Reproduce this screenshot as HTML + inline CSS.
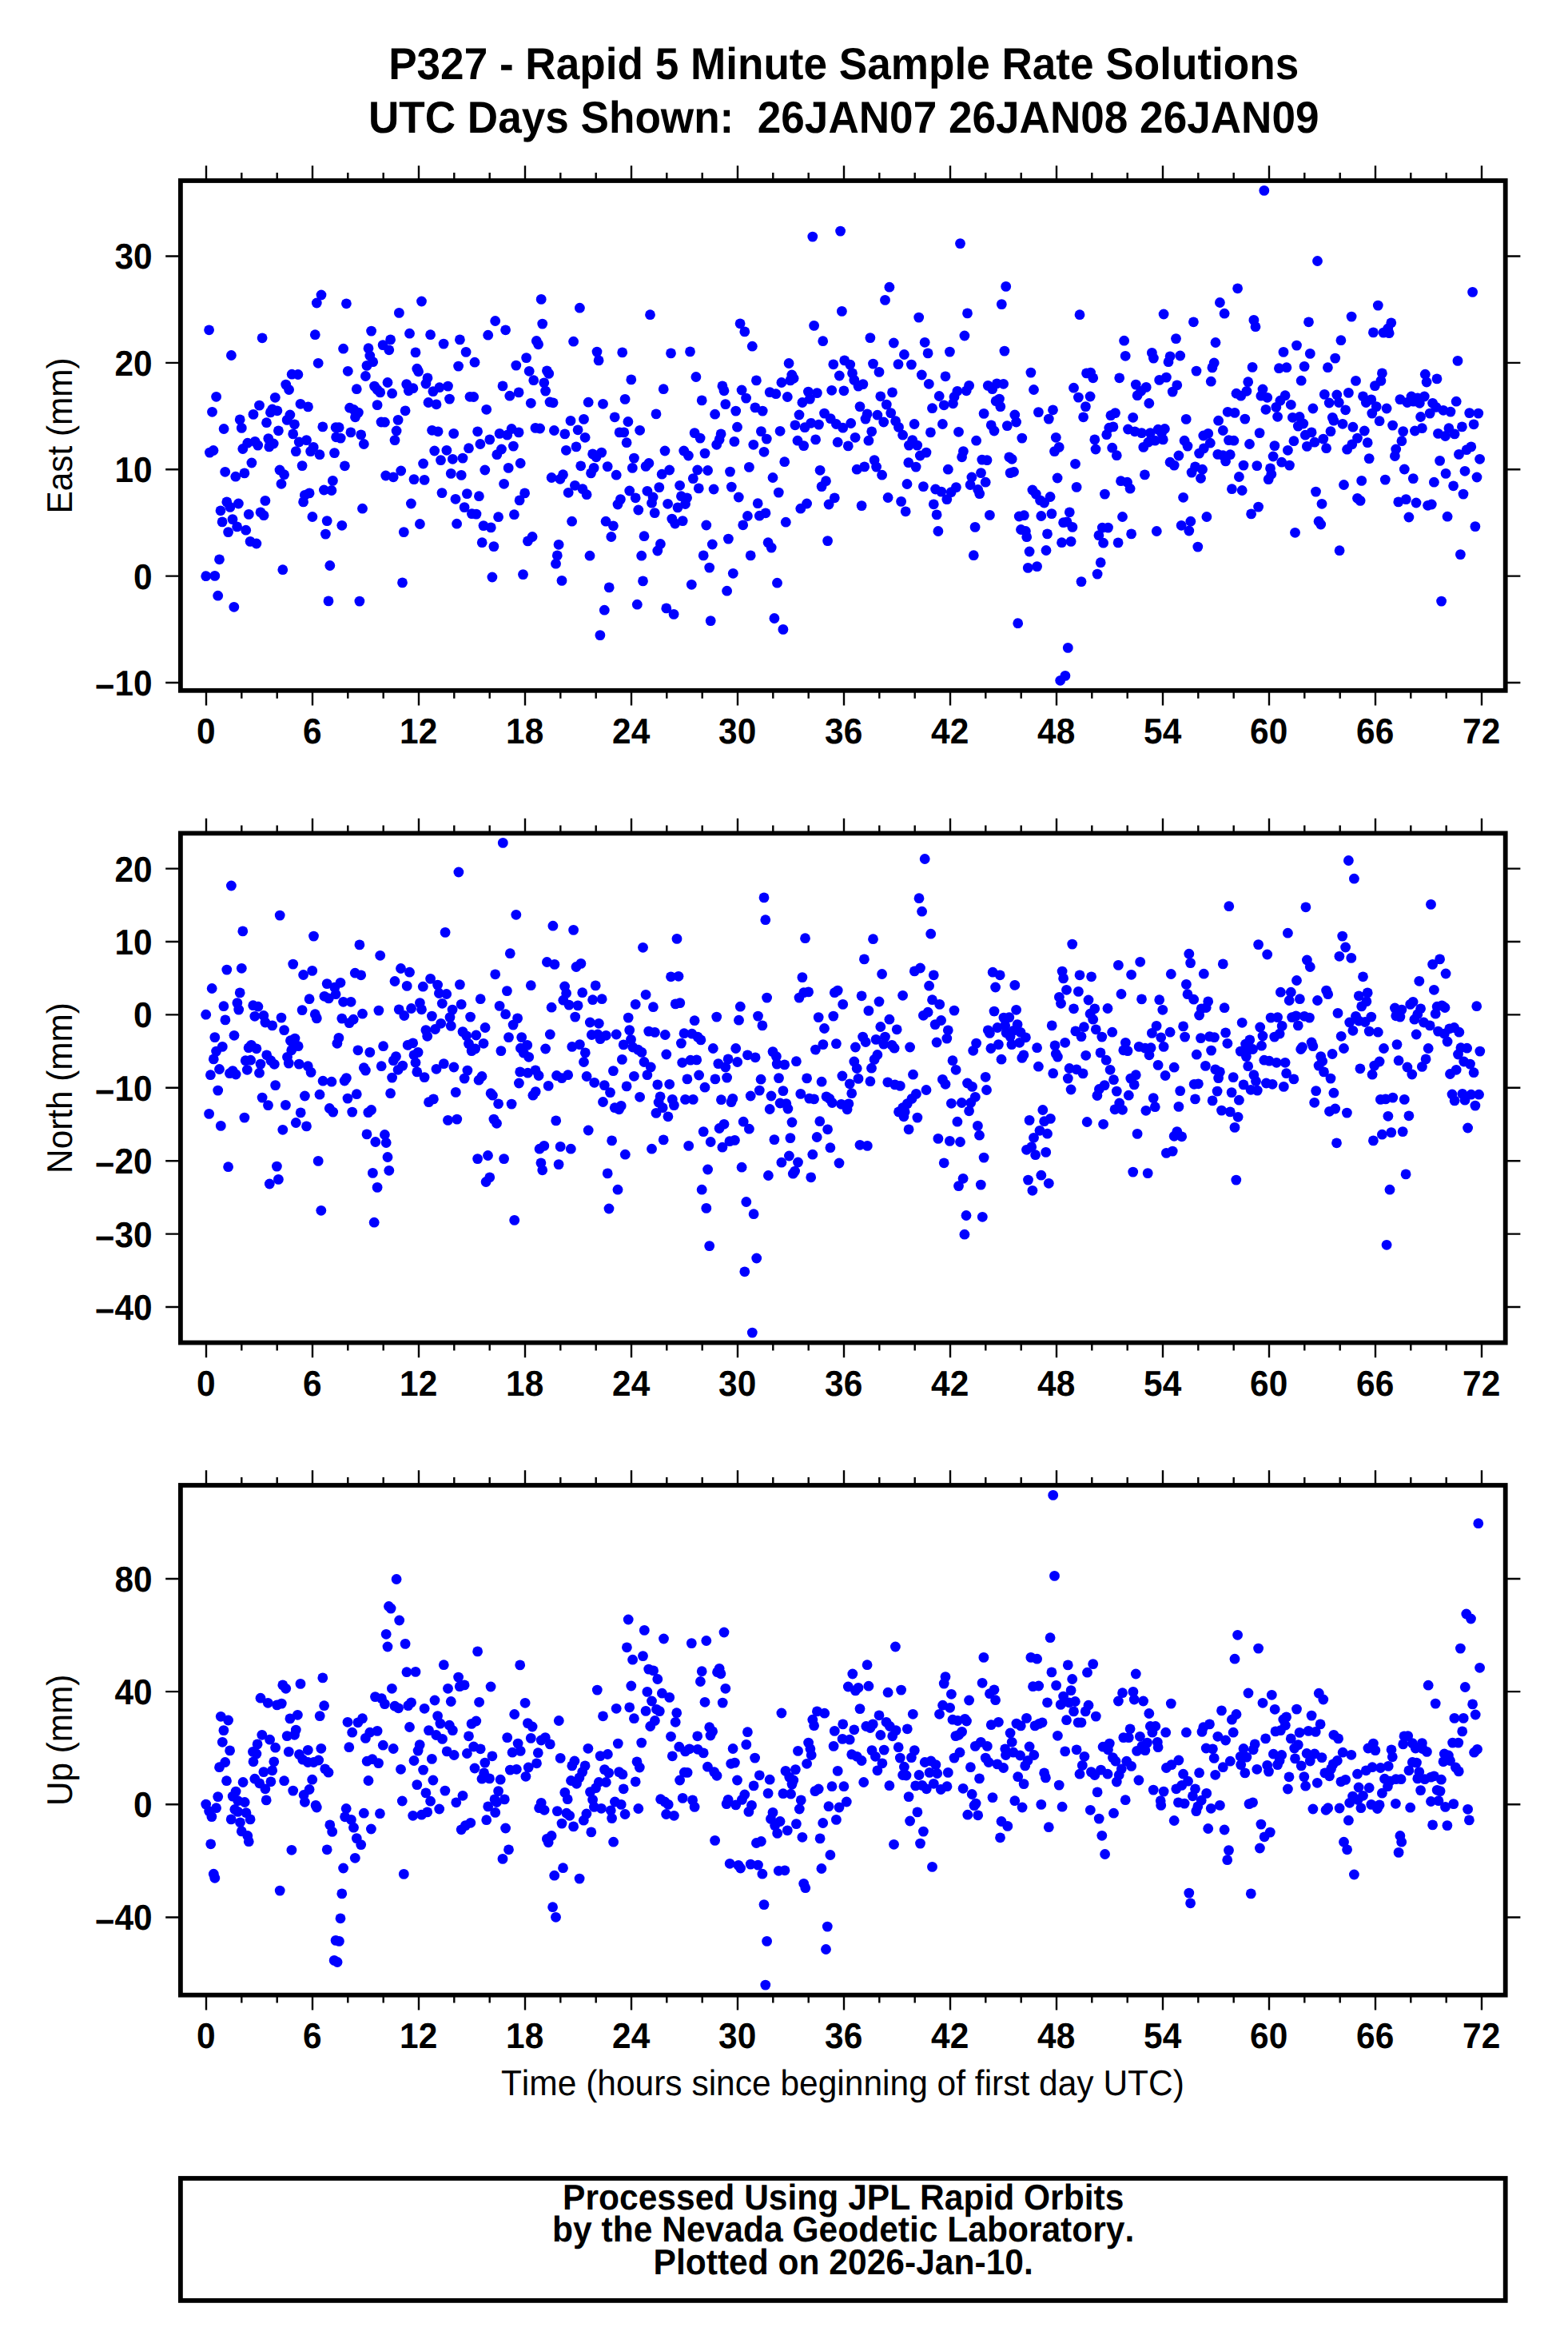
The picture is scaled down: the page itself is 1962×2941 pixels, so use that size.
<!DOCTYPE html>
<html><head><meta charset="utf-8"><title>P327</title>
<style>html,body{margin:0;padding:0;background:#fff}svg{display:block}text{font-family:"Liberation Sans",sans-serif;fill:#000;font-kerning:none;font-variant-ligatures:none;text-rendering:geometricPrecision}.b{font-weight:bold}</style></head><body>
<svg width="1962" height="2941" viewBox="0 0 1962 2941">
<rect width="1962" height="2941" fill="#fff"/>
<text class="b" font-size="53.12" text-anchor="middle" transform="translate(1055.7 98.9) scale(1 1.055)">P327 - Rapid 5 Minute Sample Rate Solutions</text>
<text class="b" font-size="53.12" text-anchor="middle" transform="translate(1055.7 165.9) scale(1 1.055)" xml:space="preserve">UTC Days Shown:  26JAN07 26JAN08 26JAN09</text>
<g fill="#0000ff"><circle cx="402.0" cy="369.0" r="6.4"/><circle cx="396.3" cy="379.0" r="6.4"/><circle cx="433.4" cy="379.8" r="6.4"/><circle cx="527.5" cy="377.0" r="6.4"/><circle cx="499.4" cy="391.4" r="6.4"/><circle cx="619.7" cy="401.5" r="6.4"/><circle cx="261.6" cy="412.8" r="6.4"/><circle cx="632.6" cy="412.8" r="6.4"/><circle cx="464.6" cy="414.1" r="6.4"/><circle cx="512.5" cy="417.2" r="6.4"/><circle cx="538.6" cy="418.7" r="6.4"/><circle cx="394.3" cy="418.7" r="6.4"/><circle cx="610.7" cy="419.2" r="6.4"/><circle cx="328.1" cy="422.8" r="6.4"/><circle cx="575.4" cy="424.9" r="6.4"/><circle cx="488.6" cy="424.9" r="6.4"/><circle cx="555.1" cy="430.1" r="6.4"/><circle cx="479.1" cy="431.6" r="6.4"/><circle cx="461.0" cy="435.7" r="6.4"/><circle cx="429.6" cy="436.2" r="6.4"/><circle cx="486.8" cy="437.8" r="6.4"/><circle cx="583.1" cy="440.4" r="6.4"/><circle cx="520.0" cy="440.9" r="6.4"/><circle cx="289.4" cy="444.5" r="6.4"/><circle cx="462.8" cy="445.0" r="6.4"/><circle cx="466.7" cy="452.7" r="6.4"/><circle cx="594.0" cy="453.2" r="6.4"/><circle cx="398.2" cy="454.3" r="6.4"/><circle cx="459.0" cy="457.4" r="6.4"/><circle cx="573.6" cy="458.1" r="6.4"/><circle cx="645.8" cy="457.1" r="6.4"/><circle cx="521.8" cy="461.2" r="6.4"/><circle cx="523.6" cy="464.8" r="6.4"/><circle cx="435.3" cy="464.3" r="6.4"/><circle cx="365.2" cy="468.2" r="6.4"/><circle cx="372.9" cy="468.5" r="6.4"/><circle cx="457.4" cy="470.5" r="6.4"/><circle cx="535.0" cy="472.8" r="6.4"/><circle cx="485.0" cy="478.5" r="6.4"/><circle cx="532.9" cy="480.0" r="6.4"/><circle cx="357.7" cy="481.1" r="6.4"/><circle cx="508.7" cy="480.6" r="6.4"/><circle cx="468.5" cy="483.1" r="6.4"/><circle cx="560.5" cy="483.1" r="6.4"/><circle cx="549.9" cy="484.7" r="6.4"/><circle cx="629.0" cy="482.9" r="6.4"/><circle cx="516.9" cy="485.7" r="6.4"/><circle cx="446.3" cy="486.7" r="6.4"/><circle cx="361.6" cy="487.5" r="6.4"/><circle cx="472.1" cy="487.5" r="6.4"/><circle cx="511.3" cy="488.8" r="6.4"/><circle cx="541.9" cy="489.6" r="6.4"/><circle cx="475.7" cy="490.9" r="6.4"/><circle cx="649.1" cy="490.9" r="6.4"/><circle cx="490.6" cy="492.2" r="6.4"/><circle cx="637.8" cy="495.2" r="6.4"/><circle cx="270.6" cy="496.3" r="6.4"/><circle cx="588.0" cy="496.3" r="6.4"/><circle cx="592.7" cy="496.5" r="6.4"/><circle cx="344.3" cy="497.3" r="6.4"/><circle cx="562.5" cy="499.1" r="6.4"/><circle cx="536.0" cy="503.5" r="6.4"/><circle cx="376.0" cy="505.3" r="6.4"/><circle cx="546.0" cy="505.8" r="6.4"/><circle cx="472.1" cy="506.6" r="6.4"/><circle cx="324.5" cy="507.1" r="6.4"/><circle cx="385.5" cy="508.9" r="6.4"/><circle cx="437.6" cy="510.2" r="6.4"/><circle cx="608.7" cy="512.3" r="6.4"/><circle cx="340.7" cy="512.0" r="6.4"/><circle cx="346.9" cy="513.8" r="6.4"/><circle cx="507.1" cy="513.8" r="6.4"/><circle cx="265.5" cy="515.3" r="6.4"/><circle cx="448.4" cy="516.1" r="6.4"/><circle cx="338.4" cy="515.9" r="6.4"/><circle cx="442.7" cy="512.5" r="6.4"/><circle cx="317.0" cy="518.4" r="6.4"/><circle cx="362.9" cy="519.0" r="6.4"/><circle cx="444.5" cy="521.8" r="6.4"/><circle cx="300.2" cy="524.9" r="6.4"/><circle cx="359.2" cy="525.4" r="6.4"/><circle cx="498.1" cy="525.4" r="6.4"/><circle cx="333.5" cy="528.7" r="6.4"/><circle cx="477.0" cy="528.0" r="6.4"/><circle cx="481.4" cy="528.2" r="6.4"/><circle cx="368.5" cy="530.8" r="6.4"/><circle cx="403.8" cy="533.9" r="6.4"/><circle cx="420.1" cy="534.7" r="6.4"/><circle cx="424.2" cy="534.7" r="6.4"/><circle cx="302.3" cy="535.4" r="6.4"/><circle cx="280.1" cy="536.5" r="6.4"/><circle cx="640.1" cy="536.5" r="6.4"/><circle cx="540.6" cy="538.3" r="6.4"/><circle cx="348.4" cy="538.8" r="6.4"/><circle cx="496.1" cy="539.0" r="6.4"/><circle cx="548.1" cy="539.8" r="6.4"/><circle cx="597.6" cy="539.8" r="6.4"/><circle cx="438.9" cy="540.9" r="6.4"/><circle cx="567.7" cy="542.4" r="6.4"/><circle cx="366.7" cy="542.9" r="6.4"/><circle cx="451.7" cy="543.9" r="6.4"/><circle cx="625.1" cy="542.4" r="6.4"/><circle cx="649.1" cy="540.9" r="6.4"/><circle cx="634.7" cy="544.2" r="6.4"/><circle cx="1051.6" cy="289.1" r="6.4"/><circle cx="1016.8" cy="296.1" r="6.4"/><circle cx="677.2" cy="374.4" r="6.4"/><circle cx="725.4" cy="385.2" r="6.4"/><circle cx="813.5" cy="393.7" r="6.4"/><circle cx="1053.4" cy="389.4" r="6.4"/><circle cx="678.7" cy="405.1" r="6.4"/><circle cx="926.1" cy="404.8" r="6.4"/><circle cx="931.8" cy="414.9" r="6.4"/><circle cx="1018.6" cy="407.4" r="6.4"/><circle cx="671.3" cy="426.5" r="6.4"/><circle cx="673.6" cy="430.8" r="6.4"/><circle cx="717.6" cy="427.2" r="6.4"/><circle cx="1029.7" cy="426.7" r="6.4"/><circle cx="941.3" cy="433.2" r="6.4"/><circle cx="747.0" cy="440.1" r="6.4"/><circle cx="749.1" cy="450.9" r="6.4"/><circle cx="778.7" cy="440.9" r="6.4"/><circle cx="839.5" cy="441.9" r="6.4"/><circle cx="863.5" cy="439.9" r="6.4"/><circle cx="658.6" cy="447.6" r="6.4"/><circle cx="987.1" cy="454.5" r="6.4"/><circle cx="1042.8" cy="455.8" r="6.4"/><circle cx="1056.7" cy="450.9" r="6.4"/><circle cx="662.2" cy="464.3" r="6.4"/><circle cx="684.4" cy="463.8" r="6.4"/><circle cx="686.7" cy="467.4" r="6.4"/><circle cx="667.7" cy="475.7" r="6.4"/><circle cx="680.8" cy="478.8" r="6.4"/><circle cx="682.6" cy="489.1" r="6.4"/><circle cx="789.8" cy="474.9" r="6.4"/><circle cx="870.9" cy="471.5" r="6.4"/><circle cx="946.4" cy="475.9" r="6.4"/><circle cx="990.8" cy="469.0" r="6.4"/><circle cx="993.1" cy="473.3" r="6.4"/><circle cx="988.9" cy="475.9" r="6.4"/><circle cx="977.9" cy="478.5" r="6.4"/><circle cx="1050.3" cy="470.0" r="6.4"/><circle cx="830.2" cy="486.7" r="6.4"/><circle cx="903.9" cy="482.9" r="6.4"/><circle cx="906.0" cy="488.8" r="6.4"/><circle cx="928.1" cy="488.0" r="6.4"/><circle cx="933.6" cy="498.1" r="6.4"/><circle cx="963.2" cy="490.6" r="6.4"/><circle cx="970.9" cy="492.7" r="6.4"/><circle cx="985.3" cy="496.5" r="6.4"/><circle cx="1011.4" cy="490.1" r="6.4"/><circle cx="1022.4" cy="491.6" r="6.4"/><circle cx="1013.4" cy="499.1" r="6.4"/><circle cx="1003.9" cy="503.5" r="6.4"/><circle cx="1040.7" cy="488.3" r="6.4"/><circle cx="1055.9" cy="488.8" r="6.4"/><circle cx="664.3" cy="504.3" r="6.4"/><circle cx="688.0" cy="503.0" r="6.4"/><circle cx="692.1" cy="503.8" r="6.4"/><circle cx="736.2" cy="503.2" r="6.4"/><circle cx="754.5" cy="505.3" r="6.4"/><circle cx="782.1" cy="499.4" r="6.4"/><circle cx="878.2" cy="500.9" r="6.4"/><circle cx="907.8" cy="505.6" r="6.4"/><circle cx="920.7" cy="514.1" r="6.4"/><circle cx="944.9" cy="509.9" r="6.4"/><circle cx="954.2" cy="514.1" r="6.4"/><circle cx="894.6" cy="518.2" r="6.4"/><circle cx="821.0" cy="517.9" r="6.4"/><circle cx="769.2" cy="521.8" r="6.4"/><circle cx="730.5" cy="524.4" r="6.4"/><circle cx="714.0" cy="526.4" r="6.4"/><circle cx="785.9" cy="527.5" r="6.4"/><circle cx="1000.0" cy="519.0" r="6.4"/><circle cx="1031.5" cy="517.1" r="6.4"/><circle cx="1039.2" cy="523.6" r="6.4"/><circle cx="1046.4" cy="530.5" r="6.4"/><circle cx="1054.7" cy="535.2" r="6.4"/><circle cx="1014.7" cy="529.3" r="6.4"/><circle cx="1024.5" cy="531.1" r="6.4"/><circle cx="994.9" cy="531.8" r="6.4"/><circle cx="1007.0" cy="534.7" r="6.4"/><circle cx="922.5" cy="534.2" r="6.4"/><circle cx="952.4" cy="539.6" r="6.4"/><circle cx="976.1" cy="539.3" r="6.4"/><circle cx="670.0" cy="535.4" r="6.4"/><circle cx="675.6" cy="536.0" r="6.4"/><circle cx="693.4" cy="538.5" r="6.4"/><circle cx="706.8" cy="542.9" r="6.4"/><circle cx="723.1" cy="537.8" r="6.4"/><circle cx="775.1" cy="540.9" r="6.4"/><circle cx="780.8" cy="540.9" r="6.4"/><circle cx="800.6" cy="538.3" r="6.4"/><circle cx="869.1" cy="541.6" r="6.4"/><circle cx="902.1" cy="542.9" r="6.4"/><circle cx="1201.5" cy="304.6" r="6.4"/><circle cx="1112.9" cy="359.2" r="6.4"/><circle cx="1107.5" cy="375.4" r="6.4"/><circle cx="1258.7" cy="358.4" r="6.4"/><circle cx="1253.3" cy="380.6" r="6.4"/><circle cx="1210.5" cy="391.9" r="6.4"/><circle cx="1149.7" cy="397.1" r="6.4"/><circle cx="1351.0" cy="393.7" r="6.4"/><circle cx="1456.1" cy="393.0" r="6.4"/><circle cx="1088.9" cy="422.6" r="6.4"/><circle cx="1118.3" cy="429.0" r="6.4"/><circle cx="1157.2" cy="428.3" r="6.4"/><circle cx="1206.9" cy="420.0" r="6.4"/><circle cx="1406.6" cy="426.2" r="6.4"/><circle cx="1131.4" cy="443.5" r="6.4"/><circle cx="1161.1" cy="441.9" r="6.4"/><circle cx="1188.4" cy="440.1" r="6.4"/><circle cx="1256.9" cy="439.1" r="6.4"/><circle cx="1408.2" cy="445.3" r="6.4"/><circle cx="1441.4" cy="441.4" r="6.4"/><circle cx="1443.4" cy="448.1" r="6.4"/><circle cx="1063.7" cy="456.1" r="6.4"/><circle cx="1092.5" cy="455.1" r="6.4"/><circle cx="1124.0" cy="455.6" r="6.4"/><circle cx="1140.4" cy="456.1" r="6.4"/><circle cx="1100.0" cy="465.4" r="6.4"/><circle cx="1066.5" cy="466.9" r="6.4"/><circle cx="1068.8" cy="475.4" r="6.4"/><circle cx="1153.3" cy="469.0" r="6.4"/><circle cx="1183.0" cy="470.8" r="6.4"/><circle cx="1289.9" cy="466.1" r="6.4"/><circle cx="1359.5" cy="466.9" r="6.4"/><circle cx="1364.6" cy="466.1" r="6.4"/><circle cx="1367.7" cy="472.8" r="6.4"/><circle cx="1400.7" cy="472.8" r="6.4"/><circle cx="1450.7" cy="475.4" r="6.4"/><circle cx="1459.4" cy="472.1" r="6.4"/><circle cx="1074.0" cy="483.1" r="6.4"/><circle cx="1079.9" cy="480.6" r="6.4"/><circle cx="1162.3" cy="480.3" r="6.4"/><circle cx="1212.6" cy="482.4" r="6.4"/><circle cx="1209.2" cy="488.8" r="6.4"/><circle cx="1197.9" cy="489.3" r="6.4"/><circle cx="1194.0" cy="496.5" r="6.4"/><circle cx="1192.5" cy="504.8" r="6.4"/><circle cx="1236.3" cy="482.4" r="6.4"/><circle cx="1247.4" cy="479.8" r="6.4"/><circle cx="1255.6" cy="480.3" r="6.4"/><circle cx="1241.7" cy="486.7" r="6.4"/><circle cx="1293.5" cy="487.5" r="6.4"/><circle cx="1343.5" cy="485.2" r="6.4"/><circle cx="1421.3" cy="481.1" r="6.4"/><circle cx="1434.2" cy="484.4" r="6.4"/><circle cx="1427.7" cy="489.3" r="6.4"/><circle cx="1423.1" cy="494.7" r="6.4"/><circle cx="1116.5" cy="490.9" r="6.4"/><circle cx="1101.8" cy="495.8" r="6.4"/><circle cx="1175.2" cy="495.5" r="6.4"/><circle cx="1181.2" cy="506.8" r="6.4"/><circle cx="1166.5" cy="510.7" r="6.4"/><circle cx="1109.3" cy="506.1" r="6.4"/><circle cx="1076.0" cy="508.6" r="6.4"/><circle cx="1246.1" cy="501.7" r="6.4"/><circle cx="1251.8" cy="508.6" r="6.4"/><circle cx="1250.5" cy="499.1" r="6.4"/><circle cx="1349.4" cy="497.1" r="6.4"/><circle cx="1364.1" cy="496.0" r="6.4"/><circle cx="1358.4" cy="508.6" r="6.4"/><circle cx="1437.8" cy="504.5" r="6.4"/><circle cx="1317.5" cy="512.8" r="6.4"/><circle cx="1299.4" cy="515.6" r="6.4"/><circle cx="1312.3" cy="524.1" r="6.4"/><circle cx="1269.8" cy="519.0" r="6.4"/><circle cx="1271.6" cy="528.0" r="6.4"/><circle cx="1231.1" cy="517.4" r="6.4"/><circle cx="1355.6" cy="521.8" r="6.4"/><circle cx="1395.5" cy="516.6" r="6.4"/><circle cx="1389.9" cy="519.7" r="6.4"/><circle cx="1417.7" cy="522.3" r="6.4"/><circle cx="1085.1" cy="517.9" r="6.4"/><circle cx="1083.0" cy="524.1" r="6.4"/><circle cx="1097.9" cy="519.2" r="6.4"/><circle cx="1114.7" cy="516.6" r="6.4"/><circle cx="1120.6" cy="526.7" r="6.4"/><circle cx="1105.7" cy="528.0" r="6.4"/><circle cx="1064.7" cy="529.5" r="6.4"/><circle cx="1144.1" cy="530.5" r="6.4"/><circle cx="1179.4" cy="530.5" r="6.4"/><circle cx="1240.2" cy="531.8" r="6.4"/><circle cx="1244.0" cy="539.0" r="6.4"/><circle cx="1260.3" cy="532.6" r="6.4"/><circle cx="1124.5" cy="534.4" r="6.4"/><circle cx="1090.7" cy="539.8" r="6.4"/><circle cx="1164.4" cy="540.9" r="6.4"/><circle cx="1199.5" cy="540.3" r="6.4"/><circle cx="1392.9" cy="533.9" r="6.4"/><circle cx="1387.8" cy="535.2" r="6.4"/><circle cx="1411.5" cy="537.0" r="6.4"/><circle cx="1420.0" cy="539.8" r="6.4"/><circle cx="1428.5" cy="541.6" r="6.4"/><circle cx="1439.3" cy="541.6" r="6.4"/><circle cx="1449.1" cy="537.2" r="6.4"/><circle cx="1457.4" cy="536.5" r="6.4"/><circle cx="1453.5" cy="541.6" r="6.4"/><circle cx="1129.6" cy="544.2" r="6.4"/><circle cx="1384.7" cy="543.7" r="6.4"/><circle cx="1464.1" cy="445.8" r="6.4"/><circle cx="1462.0" cy="452.7" r="6.4"/><circle cx="1467.2" cy="490.1" r="6.4"/><circle cx="1472.8" cy="481.8" r="6.4"/><circle cx="1581.8" cy="238.4" r="6.4"/><circle cx="1648.5" cy="326.5" r="6.4"/><circle cx="1548.6" cy="360.8" r="6.4"/><circle cx="1842.6" cy="365.4" r="6.4"/><circle cx="1526.4" cy="378.5" r="6.4"/><circle cx="1532.1" cy="392.2" r="6.4"/><circle cx="1724.3" cy="382.1" r="6.4"/><circle cx="1691.1" cy="396.1" r="6.4"/><circle cx="1493.4" cy="402.8" r="6.4"/><circle cx="1568.9" cy="400.4" r="6.4"/><circle cx="1571.0" cy="408.7" r="6.4"/><circle cx="1637.5" cy="402.8" r="6.4"/><circle cx="1740.8" cy="403.8" r="6.4"/><circle cx="1736.7" cy="411.0" r="6.4"/><circle cx="1731.0" cy="416.1" r="6.4"/><circle cx="1738.2" cy="416.7" r="6.4"/><circle cx="1718.4" cy="415.9" r="6.4"/><circle cx="1471.5" cy="423.6" r="6.4"/><circle cx="1521.0" cy="428.5" r="6.4"/><circle cx="1677.9" cy="425.7" r="6.4"/><circle cx="1622.5" cy="432.1" r="6.4"/><circle cx="1606.0" cy="440.4" r="6.4"/><circle cx="1639.3" cy="442.4" r="6.4"/><circle cx="1670.7" cy="448.1" r="6.4"/><circle cx="1476.7" cy="445.0" r="6.4"/><circle cx="1824.0" cy="451.4" r="6.4"/><circle cx="1519.2" cy="454.0" r="6.4"/><circle cx="1516.9" cy="459.9" r="6.4"/><circle cx="1567.1" cy="459.4" r="6.4"/><circle cx="1600.4" cy="460.7" r="6.4"/><circle cx="1609.9" cy="459.7" r="6.4"/><circle cx="1632.1" cy="458.4" r="6.4"/><circle cx="1661.4" cy="459.7" r="6.4"/><circle cx="1497.0" cy="464.1" r="6.4"/><circle cx="1515.3" cy="477.2" r="6.4"/><circle cx="1561.7" cy="477.7" r="6.4"/><circle cx="1628.2" cy="476.2" r="6.4"/><circle cx="1696.5" cy="476.4" r="6.4"/><circle cx="1729.4" cy="466.9" r="6.4"/><circle cx="1727.9" cy="476.4" r="6.4"/><circle cx="1720.4" cy="482.6" r="6.4"/><circle cx="1783.3" cy="468.2" r="6.4"/><circle cx="1785.1" cy="478.0" r="6.4"/><circle cx="1798.0" cy="473.9" r="6.4"/><circle cx="1547.0" cy="492.2" r="6.4"/><circle cx="1552.7" cy="495.2" r="6.4"/><circle cx="1559.9" cy="489.3" r="6.4"/><circle cx="1580.0" cy="487.0" r="6.4"/><circle cx="1577.9" cy="495.2" r="6.4"/><circle cx="1585.7" cy="497.3" r="6.4"/><circle cx="1608.1" cy="494.7" r="6.4"/><circle cx="1601.9" cy="501.2" r="6.4"/><circle cx="1596.8" cy="509.4" r="6.4"/><circle cx="1615.3" cy="506.3" r="6.4"/><circle cx="1583.9" cy="512.3" r="6.4"/><circle cx="1657.3" cy="493.4" r="6.4"/><circle cx="1672.8" cy="494.0" r="6.4"/><circle cx="1675.3" cy="503.5" r="6.4"/><circle cx="1663.2" cy="504.0" r="6.4"/><circle cx="1687.4" cy="491.4" r="6.4"/><circle cx="1705.5" cy="495.8" r="6.4"/><circle cx="1709.3" cy="503.5" r="6.4"/><circle cx="1715.8" cy="499.9" r="6.4"/><circle cx="1722.2" cy="508.6" r="6.4"/><circle cx="1716.8" cy="517.1" r="6.4"/><circle cx="1735.1" cy="511.0" r="6.4"/><circle cx="1683.6" cy="512.8" r="6.4"/><circle cx="1642.9" cy="511.0" r="6.4"/><circle cx="1751.9" cy="499.6" r="6.4"/><circle cx="1766.0" cy="496.0" r="6.4"/><circle cx="1760.9" cy="503.5" r="6.4"/><circle cx="1773.8" cy="497.8" r="6.4"/><circle cx="1782.3" cy="496.0" r="6.4"/><circle cx="1776.3" cy="504.3" r="6.4"/><circle cx="1768.6" cy="502.2" r="6.4"/><circle cx="1792.6" cy="504.3" r="6.4"/><circle cx="1796.9" cy="509.4" r="6.4"/><circle cx="1806.0" cy="513.3" r="6.4"/><circle cx="1815.0" cy="515.1" r="6.4"/><circle cx="1822.2" cy="502.2" r="6.4"/><circle cx="1789.2" cy="517.1" r="6.4"/><circle cx="1777.6" cy="521.5" r="6.4"/><circle cx="1838.7" cy="516.6" r="6.4"/><circle cx="1849.8" cy="517.1" r="6.4"/><circle cx="1844.1" cy="530.8" r="6.4"/><circle cx="1829.4" cy="533.9" r="6.4"/><circle cx="1812.9" cy="535.7" r="6.4"/><circle cx="1726.1" cy="526.7" r="6.4"/><circle cx="1742.6" cy="532.1" r="6.4"/><circle cx="1755.7" cy="539.6" r="6.4"/><circle cx="1779.4" cy="535.7" r="6.4"/><circle cx="1770.4" cy="539.0" r="6.4"/><circle cx="1707.3" cy="539.0" r="6.4"/><circle cx="1692.9" cy="534.2" r="6.4"/><circle cx="1680.0" cy="530.3" r="6.4"/><circle cx="1667.3" cy="522.3" r="6.4"/><circle cx="1668.9" cy="526.2" r="6.4"/><circle cx="1665.0" cy="539.6" r="6.4"/><circle cx="1626.1" cy="521.5" r="6.4"/><circle cx="1617.4" cy="522.3" r="6.4"/><circle cx="1630.8" cy="530.0" r="6.4"/><circle cx="1624.3" cy="533.1" r="6.4"/><circle cx="1598.6" cy="521.3" r="6.4"/><circle cx="1557.8" cy="524.1" r="6.4"/><circle cx="1536.2" cy="515.3" r="6.4"/><circle cx="1545.0" cy="516.4" r="6.4"/><circle cx="1524.6" cy="526.2" r="6.4"/><circle cx="1530.3" cy="538.5" r="6.4"/><circle cx="1484.2" cy="524.4" r="6.4"/><circle cx="1511.7" cy="542.4" r="6.4"/><circle cx="1505.8" cy="545.0" r="6.4"/><circle cx="1576.1" cy="541.6" r="6.4"/><circle cx="1641.1" cy="540.9" r="6.4"/><circle cx="1633.3" cy="544.2" r="6.4"/><circle cx="1799.5" cy="542.4" r="6.4"/><circle cx="1820.1" cy="542.9" r="6.4"/><circle cx="1808.5" cy="545.5" r="6.4"/><circle cx="335.8" cy="548.6" r="6.4"/><circle cx="342.2" cy="555.0" r="6.4"/><circle cx="336.8" cy="558.9" r="6.4"/><circle cx="309.8" cy="554.2" r="6.4"/><circle cx="319.1" cy="552.4" r="6.4"/><circle cx="322.7" cy="557.1" r="6.4"/><circle cx="303.8" cy="561.5" r="6.4"/><circle cx="262.4" cy="566.1" r="6.4"/><circle cx="267.0" cy="563.5" r="6.4"/><circle cx="374.2" cy="553.0" r="6.4"/><circle cx="383.5" cy="550.6" r="6.4"/><circle cx="370.3" cy="564.6" r="6.4"/><circle cx="392.2" cy="559.4" r="6.4"/><circle cx="388.6" cy="564.6" r="6.4"/><circle cx="400.0" cy="568.7" r="6.4"/><circle cx="418.5" cy="566.6" r="6.4"/><circle cx="420.6" cy="546.8" r="6.4"/><circle cx="426.2" cy="548.1" r="6.4"/><circle cx="455.3" cy="555.5" r="6.4"/><circle cx="494.0" cy="550.6" r="6.4"/><circle cx="543.7" cy="564.0" r="6.4"/><circle cx="558.9" cy="563.3" r="6.4"/><circle cx="586.5" cy="560.7" r="6.4"/><circle cx="600.9" cy="555.5" r="6.4"/><circle cx="612.8" cy="549.9" r="6.4"/><circle cx="642.4" cy="558.1" r="6.4"/><circle cx="627.5" cy="562.0" r="6.4"/><circle cx="621.8" cy="568.7" r="6.4"/><circle cx="551.5" cy="575.6" r="6.4"/><circle cx="566.4" cy="574.3" r="6.4"/><circle cx="579.0" cy="573.1" r="6.4"/><circle cx="529.6" cy="580.0" r="6.4"/><circle cx="651.2" cy="579.5" r="6.4"/><circle cx="314.9" cy="579.0" r="6.4"/><circle cx="281.7" cy="590.3" r="6.4"/><circle cx="294.8" cy="596.2" r="6.4"/><circle cx="305.9" cy="591.9" r="6.4"/><circle cx="350.0" cy="588.0" r="6.4"/><circle cx="355.6" cy="593.7" r="6.4"/><circle cx="352.0" cy="605.3" r="6.4"/><circle cx="378.1" cy="582.6" r="6.4"/><circle cx="431.4" cy="582.8" r="6.4"/><circle cx="482.7" cy="595.0" r="6.4"/><circle cx="492.2" cy="596.8" r="6.4"/><circle cx="501.7" cy="589.0" r="6.4"/><circle cx="518.0" cy="599.6" r="6.4"/><circle cx="531.1" cy="600.4" r="6.4"/><circle cx="564.3" cy="592.4" r="6.4"/><circle cx="577.2" cy="594.4" r="6.4"/><circle cx="606.8" cy="588.0" r="6.4"/><circle cx="636.2" cy="585.4" r="6.4"/><circle cx="630.6" cy="605.3" r="6.4"/><circle cx="416.4" cy="601.4" r="6.4"/><circle cx="405.4" cy="613.0" r="6.4"/><circle cx="414.9" cy="613.5" r="6.4"/><circle cx="387.1" cy="616.9" r="6.4"/><circle cx="381.4" cy="619.4" r="6.4"/><circle cx="379.6" cy="627.9" r="6.4"/><circle cx="331.9" cy="626.4" r="6.4"/><circle cx="283.8" cy="627.9" r="6.4"/><circle cx="298.4" cy="630.0" r="6.4"/><circle cx="287.9" cy="634.4" r="6.4"/><circle cx="276.0" cy="638.8" r="6.4"/><circle cx="311.3" cy="643.4" r="6.4"/><circle cx="326.0" cy="640.8" r="6.4"/><circle cx="330.1" cy="644.7" r="6.4"/><circle cx="291.0" cy="649.6" r="6.4"/><circle cx="278.1" cy="652.9" r="6.4"/><circle cx="296.6" cy="658.9" r="6.4"/><circle cx="307.7" cy="663.2" r="6.4"/><circle cx="285.6" cy="665.6" r="6.4"/><circle cx="313.1" cy="677.4" r="6.4"/><circle cx="320.9" cy="680.0" r="6.4"/><circle cx="390.9" cy="646.5" r="6.4"/><circle cx="409.2" cy="651.6" r="6.4"/><circle cx="427.8" cy="657.3" r="6.4"/><circle cx="407.4" cy="668.1" r="6.4"/><circle cx="453.5" cy="636.2" r="6.4"/><circle cx="514.4" cy="630.0" r="6.4"/><circle cx="525.4" cy="655.5" r="6.4"/><circle cx="505.3" cy="665.6" r="6.4"/><circle cx="553.0" cy="616.6" r="6.4"/><circle cx="570.0" cy="624.3" r="6.4"/><circle cx="584.4" cy="617.6" r="6.4"/><circle cx="599.4" cy="620.7" r="6.4"/><circle cx="581.1" cy="634.6" r="6.4"/><circle cx="590.4" cy="642.6" r="6.4"/><circle cx="596.0" cy="643.1" r="6.4"/><circle cx="571.6" cy="655.2" r="6.4"/><circle cx="623.6" cy="646.7" r="6.4"/><circle cx="643.4" cy="643.7" r="6.4"/><circle cx="650.1" cy="625.9" r="6.4"/><circle cx="605.0" cy="657.6" r="6.4"/><circle cx="614.3" cy="659.9" r="6.4"/><circle cx="603.2" cy="678.7" r="6.4"/><circle cx="617.9" cy="683.6" r="6.4"/><circle cx="274.5" cy="699.8" r="6.4"/><circle cx="257.7" cy="720.7" r="6.4"/><circle cx="268.8" cy="720.4" r="6.4"/><circle cx="353.8" cy="712.7" r="6.4"/><circle cx="412.8" cy="707.5" r="6.4"/><circle cx="503.5" cy="728.9" r="6.4"/><circle cx="615.9" cy="722.0" r="6.4"/><circle cx="272.7" cy="745.2" r="6.4"/><circle cx="292.8" cy="759.3" r="6.4"/><circle cx="411.0" cy="751.9" r="6.4"/><circle cx="449.9" cy="752.1" r="6.4"/><circle cx="656.6" cy="616.9" r="6.4"/><circle cx="654.5" cy="718.6" r="6.4"/><circle cx="660.4" cy="676.9" r="6.4"/><circle cx="666.1" cy="671.5" r="6.4"/><circle cx="732.1" cy="547.3" r="6.4"/><circle cx="784.1" cy="553.7" r="6.4"/><circle cx="876.1" cy="548.1" r="6.4"/><circle cx="900.1" cy="549.9" r="6.4"/><circle cx="896.7" cy="556.3" r="6.4"/><circle cx="918.9" cy="552.4" r="6.4"/><circle cx="942.8" cy="556.3" r="6.4"/><circle cx="959.3" cy="549.1" r="6.4"/><circle cx="956.0" cy="565.3" r="6.4"/><circle cx="998.0" cy="551.2" r="6.4"/><circle cx="1005.7" cy="557.6" r="6.4"/><circle cx="1020.6" cy="549.9" r="6.4"/><circle cx="1048.2" cy="553.2" r="6.4"/><circle cx="721.0" cy="558.9" r="6.4"/><circle cx="708.4" cy="563.3" r="6.4"/><circle cx="741.6" cy="567.9" r="6.4"/><circle cx="752.7" cy="566.1" r="6.4"/><circle cx="746.0" cy="571.8" r="6.4"/><circle cx="832.0" cy="564.0" r="6.4"/><circle cx="855.7" cy="564.0" r="6.4"/><circle cx="861.4" cy="570.0" r="6.4"/><circle cx="882.0" cy="567.1" r="6.4"/><circle cx="793.4" cy="573.1" r="6.4"/><circle cx="811.9" cy="579.5" r="6.4"/><circle cx="808.1" cy="583.4" r="6.4"/><circle cx="791.3" cy="585.4" r="6.4"/><circle cx="726.7" cy="582.8" r="6.4"/><circle cx="743.1" cy="585.4" r="6.4"/><circle cx="739.5" cy="591.9" r="6.4"/><circle cx="760.2" cy="583.6" r="6.4"/><circle cx="771.2" cy="594.2" r="6.4"/><circle cx="704.5" cy="593.7" r="6.4"/><circle cx="700.9" cy="599.3" r="6.4"/><circle cx="690.1" cy="597.5" r="6.4"/><circle cx="837.7" cy="588.0" r="6.4"/><circle cx="828.2" cy="593.2" r="6.4"/><circle cx="872.7" cy="588.0" r="6.4"/><circle cx="885.6" cy="588.5" r="6.4"/><circle cx="867.3" cy="598.6" r="6.4"/><circle cx="913.5" cy="590.1" r="6.4"/><circle cx="937.4" cy="584.4" r="6.4"/><circle cx="981.7" cy="577.7" r="6.4"/><circle cx="967.0" cy="597.5" r="6.4"/><circle cx="1026.1" cy="588.3" r="6.4"/><circle cx="1033.5" cy="601.7" r="6.4"/><circle cx="1028.1" cy="608.6" r="6.4"/><circle cx="719.4" cy="607.3" r="6.4"/><circle cx="729.0" cy="611.7" r="6.4"/><circle cx="734.1" cy="618.7" r="6.4"/><circle cx="711.2" cy="616.3" r="6.4"/><circle cx="787.7" cy="614.0" r="6.4"/><circle cx="795.2" cy="622.8" r="6.4"/><circle cx="809.9" cy="614.3" r="6.4"/><circle cx="817.1" cy="622.0" r="6.4"/><circle cx="815.5" cy="629.2" r="6.4"/><circle cx="824.8" cy="609.6" r="6.4"/><circle cx="850.6" cy="607.3" r="6.4"/><circle cx="874.3" cy="610.9" r="6.4"/><circle cx="893.1" cy="612.0" r="6.4"/><circle cx="915.3" cy="609.1" r="6.4"/><circle cx="924.3" cy="622.0" r="6.4"/><circle cx="974.3" cy="616.1" r="6.4"/><circle cx="1044.3" cy="622.8" r="6.4"/><circle cx="1037.1" cy="631.0" r="6.4"/><circle cx="1009.6" cy="630.0" r="6.4"/><circle cx="1001.8" cy="636.2" r="6.4"/><circle cx="948.2" cy="629.7" r="6.4"/><circle cx="958.0" cy="641.8" r="6.4"/><circle cx="950.3" cy="645.2" r="6.4"/><circle cx="935.4" cy="645.5" r="6.4"/><circle cx="929.7" cy="656.8" r="6.4"/><circle cx="983.3" cy="653.2" r="6.4"/><circle cx="776.4" cy="624.6" r="6.4"/><circle cx="773.0" cy="631.0" r="6.4"/><circle cx="798.8" cy="638.0" r="6.4"/><circle cx="819.2" cy="641.6" r="6.4"/><circle cx="835.6" cy="630.3" r="6.4"/><circle cx="852.4" cy="620.7" r="6.4"/><circle cx="859.6" cy="622.8" r="6.4"/><circle cx="857.5" cy="630.5" r="6.4"/><circle cx="848.0" cy="634.9" r="6.4"/><circle cx="840.8" cy="649.1" r="6.4"/><circle cx="844.7" cy="655.0" r="6.4"/><circle cx="854.2" cy="651.6" r="6.4"/><circle cx="883.8" cy="657.0" r="6.4"/><circle cx="715.6" cy="652.2" r="6.4"/><circle cx="758.1" cy="652.2" r="6.4"/><circle cx="767.4" cy="657.8" r="6.4"/><circle cx="764.8" cy="671.5" r="6.4"/><circle cx="806.0" cy="670.7" r="6.4"/><circle cx="826.4" cy="680.5" r="6.4"/><circle cx="822.8" cy="689.0" r="6.4"/><circle cx="802.7" cy="695.2" r="6.4"/><circle cx="738.0" cy="695.2" r="6.4"/><circle cx="699.1" cy="681.3" r="6.4"/><circle cx="697.3" cy="694.9" r="6.4"/><circle cx="695.5" cy="705.2" r="6.4"/><circle cx="911.4" cy="674.1" r="6.4"/><circle cx="891.3" cy="681.0" r="6.4"/><circle cx="880.2" cy="694.9" r="6.4"/><circle cx="887.7" cy="710.1" r="6.4"/><circle cx="917.3" cy="717.3" r="6.4"/><circle cx="939.2" cy="694.9" r="6.4"/><circle cx="961.1" cy="678.7" r="6.4"/><circle cx="965.2" cy="685.1" r="6.4"/><circle cx="1035.6" cy="676.6" r="6.4"/><circle cx="703.0" cy="726.4" r="6.4"/><circle cx="762.2" cy="734.9" r="6.4"/><circle cx="804.5" cy="726.9" r="6.4"/><circle cx="865.3" cy="731.3" r="6.4"/><circle cx="909.6" cy="739.2" r="6.4"/><circle cx="972.5" cy="729.2" r="6.4"/><circle cx="756.3" cy="763.2" r="6.4"/><circle cx="797.3" cy="756.2" r="6.4"/><circle cx="833.8" cy="760.9" r="6.4"/><circle cx="843.1" cy="768.4" r="6.4"/><circle cx="889.2" cy="776.6" r="6.4"/><circle cx="968.9" cy="773.5" r="6.4"/><circle cx="979.9" cy="787.4" r="6.4"/><circle cx="750.9" cy="794.6" r="6.4"/><circle cx="1061.3" cy="557.9" r="6.4"/><circle cx="1070.1" cy="547.3" r="6.4"/><circle cx="1086.9" cy="551.2" r="6.4"/><circle cx="1141.7" cy="550.6" r="6.4"/><circle cx="1137.4" cy="557.1" r="6.4"/><circle cx="1147.7" cy="557.1" r="6.4"/><circle cx="1221.6" cy="551.2" r="6.4"/><circle cx="1278.8" cy="548.1" r="6.4"/><circle cx="1321.3" cy="547.3" r="6.4"/><circle cx="1369.8" cy="549.9" r="6.4"/><circle cx="1436.8" cy="553.2" r="6.4"/><circle cx="1430.8" cy="559.4" r="6.4"/><circle cx="1445.3" cy="551.2" r="6.4"/><circle cx="1455.3" cy="549.9" r="6.4"/><circle cx="1325.2" cy="559.4" r="6.4"/><circle cx="1319.5" cy="564.6" r="6.4"/><circle cx="1371.0" cy="562.0" r="6.4"/><circle cx="1391.7" cy="560.2" r="6.4"/><circle cx="1397.3" cy="569.7" r="6.4"/><circle cx="1205.4" cy="564.6" r="6.4"/><circle cx="1203.6" cy="571.8" r="6.4"/><circle cx="1159.0" cy="566.1" r="6.4"/><circle cx="1151.3" cy="570.0" r="6.4"/><circle cx="1094.1" cy="575.6" r="6.4"/><circle cx="1096.6" cy="584.1" r="6.4"/><circle cx="1081.7" cy="583.9" r="6.4"/><circle cx="1072.2" cy="587.2" r="6.4"/><circle cx="1103.6" cy="594.2" r="6.4"/><circle cx="1136.8" cy="578.7" r="6.4"/><circle cx="1146.1" cy="584.1" r="6.4"/><circle cx="1186.3" cy="587.2" r="6.4"/><circle cx="1228.8" cy="575.1" r="6.4"/><circle cx="1235.0" cy="575.6" r="6.4"/><circle cx="1227.5" cy="591.6" r="6.4"/><circle cx="1262.8" cy="571.8" r="6.4"/><circle cx="1266.2" cy="574.3" r="6.4"/><circle cx="1264.1" cy="591.6" r="6.4"/><circle cx="1268.5" cy="590.3" r="6.4"/><circle cx="1345.5" cy="580.3" r="6.4"/><circle cx="1432.4" cy="593.9" r="6.4"/><circle cx="1323.1" cy="598.0" r="6.4"/><circle cx="1347.1" cy="609.4" r="6.4"/><circle cx="1402.5" cy="601.7" r="6.4"/><circle cx="1410.5" cy="603.2" r="6.4"/><circle cx="1414.1" cy="611.2" r="6.4"/><circle cx="1382.4" cy="618.1" r="6.4"/><circle cx="1215.9" cy="597.0" r="6.4"/><circle cx="1214.1" cy="606.5" r="6.4"/><circle cx="1233.2" cy="603.2" r="6.4"/><circle cx="1223.7" cy="612.5" r="6.4"/><circle cx="1225.7" cy="617.6" r="6.4"/><circle cx="1135.0" cy="605.5" r="6.4"/><circle cx="1155.4" cy="608.6" r="6.4"/><circle cx="1170.6" cy="612.0" r="6.4"/><circle cx="1177.8" cy="615.1" r="6.4"/><circle cx="1196.4" cy="609.6" r="6.4"/><circle cx="1190.2" cy="615.6" r="6.4"/><circle cx="1184.8" cy="624.6" r="6.4"/><circle cx="1111.1" cy="622.5" r="6.4"/><circle cx="1127.6" cy="627.4" r="6.4"/><circle cx="1078.1" cy="632.6" r="6.4"/><circle cx="1133.2" cy="639.8" r="6.4"/><circle cx="1168.3" cy="630.8" r="6.4"/><circle cx="1172.1" cy="643.9" r="6.4"/><circle cx="1173.9" cy="664.5" r="6.4"/><circle cx="1238.4" cy="644.4" r="6.4"/><circle cx="1220.1" cy="659.4" r="6.4"/><circle cx="1218.3" cy="694.7" r="6.4"/><circle cx="1291.9" cy="613.0" r="6.4"/><circle cx="1296.3" cy="618.1" r="6.4"/><circle cx="1301.5" cy="625.9" r="6.4"/><circle cx="1306.6" cy="629.0" r="6.4"/><circle cx="1314.1" cy="621.5" r="6.4"/><circle cx="1275.2" cy="646.0" r="6.4"/><circle cx="1281.4" cy="644.7" r="6.4"/><circle cx="1302.8" cy="645.5" r="6.4"/><circle cx="1315.9" cy="642.6" r="6.4"/><circle cx="1338.3" cy="640.8" r="6.4"/><circle cx="1330.6" cy="653.7" r="6.4"/><circle cx="1335.0" cy="652.9" r="6.4"/><circle cx="1341.9" cy="659.4" r="6.4"/><circle cx="1277.5" cy="662.5" r="6.4"/><circle cx="1283.4" cy="664.5" r="6.4"/><circle cx="1284.7" cy="671.7" r="6.4"/><circle cx="1310.5" cy="667.9" r="6.4"/><circle cx="1328.5" cy="678.7" r="6.4"/><circle cx="1340.1" cy="677.4" r="6.4"/><circle cx="1288.1" cy="690.0" r="6.4"/><circle cx="1309.0" cy="688.5" r="6.4"/><circle cx="1286.3" cy="710.4" r="6.4"/><circle cx="1297.6" cy="708.6" r="6.4"/><circle cx="1404.5" cy="646.5" r="6.4"/><circle cx="1379.3" cy="660.1" r="6.4"/><circle cx="1386.5" cy="660.1" r="6.4"/><circle cx="1374.9" cy="669.7" r="6.4"/><circle cx="1380.6" cy="679.2" r="6.4"/><circle cx="1399.1" cy="678.9" r="6.4"/><circle cx="1415.6" cy="667.9" r="6.4"/><circle cx="1447.3" cy="664.5" r="6.4"/><circle cx="1377.2" cy="703.7" r="6.4"/><circle cx="1373.1" cy="718.1" r="6.4"/><circle cx="1353.0" cy="727.6" r="6.4"/><circle cx="1273.7" cy="779.7" r="6.4"/><circle cx="1336.3" cy="810.4" r="6.4"/><circle cx="1332.9" cy="845.4" r="6.4"/><circle cx="1326.7" cy="851.3" r="6.4"/><circle cx="1464.1" cy="578.2" r="6.4"/><circle cx="1469.2" cy="582.1" r="6.4"/><circle cx="1482.1" cy="551.2" r="6.4"/><circle cx="1486.0" cy="558.1" r="6.4"/><circle cx="1514.3" cy="554.2" r="6.4"/><circle cx="1506.3" cy="560.9" r="6.4"/><circle cx="1500.6" cy="567.1" r="6.4"/><circle cx="1537.5" cy="550.6" r="6.4"/><circle cx="1543.9" cy="551.2" r="6.4"/><circle cx="1563.5" cy="555.5" r="6.4"/><circle cx="1594.9" cy="557.6" r="6.4"/><circle cx="1618.9" cy="551.7" r="6.4"/><circle cx="1611.4" cy="563.3" r="6.4"/><circle cx="1644.9" cy="553.2" r="6.4"/><circle cx="1635.4" cy="558.4" r="6.4"/><circle cx="1655.8" cy="549.1" r="6.4"/><circle cx="1659.6" cy="560.7" r="6.4"/><circle cx="1698.5" cy="548.1" r="6.4"/><circle cx="1691.8" cy="555.8" r="6.4"/><circle cx="1685.6" cy="562.2" r="6.4"/><circle cx="1711.2" cy="553.7" r="6.4"/><circle cx="1753.9" cy="551.7" r="6.4"/><circle cx="1746.7" cy="562.0" r="6.4"/><circle cx="1745.4" cy="570.5" r="6.4"/><circle cx="1713.2" cy="573.6" r="6.4"/><circle cx="1840.8" cy="558.9" r="6.4"/><circle cx="1835.1" cy="562.7" r="6.4"/><circle cx="1825.5" cy="568.4" r="6.4"/><circle cx="1851.6" cy="574.3" r="6.4"/><circle cx="1801.6" cy="576.4" r="6.4"/><circle cx="1474.9" cy="570.0" r="6.4"/><circle cx="1523.8" cy="568.4" r="6.4"/><circle cx="1530.3" cy="569.7" r="6.4"/><circle cx="1539.3" cy="568.7" r="6.4"/><circle cx="1533.6" cy="576.9" r="6.4"/><circle cx="1593.1" cy="571.0" r="6.4"/><circle cx="1603.7" cy="578.2" r="6.4"/><circle cx="1613.5" cy="582.1" r="6.4"/><circle cx="1556.0" cy="582.1" r="6.4"/><circle cx="1572.8" cy="582.6" r="6.4"/><circle cx="1589.5" cy="585.9" r="6.4"/><circle cx="1590.8" cy="593.2" r="6.4"/><circle cx="1587.2" cy="599.6" r="6.4"/><circle cx="1495.5" cy="583.9" r="6.4"/><circle cx="1504.5" cy="587.2" r="6.4"/><circle cx="1491.1" cy="591.1" r="6.4"/><circle cx="1502.5" cy="598.3" r="6.4"/><circle cx="1550.4" cy="596.5" r="6.4"/><circle cx="1541.4" cy="611.7" r="6.4"/><circle cx="1554.2" cy="613.5" r="6.4"/><circle cx="1480.6" cy="622.3" r="6.4"/><circle cx="1757.3" cy="587.0" r="6.4"/><circle cx="1768.3" cy="598.6" r="6.4"/><circle cx="1733.3" cy="600.1" r="6.4"/><circle cx="1703.7" cy="601.4" r="6.4"/><circle cx="1681.5" cy="606.5" r="6.4"/><circle cx="1646.5" cy="615.1" r="6.4"/><circle cx="1654.0" cy="630.3" r="6.4"/><circle cx="1698.5" cy="623.3" r="6.4"/><circle cx="1702.1" cy="626.4" r="6.4"/><circle cx="1809.1" cy="592.4" r="6.4"/><circle cx="1833.0" cy="589.3" r="6.4"/><circle cx="1848.0" cy="597.0" r="6.4"/><circle cx="1794.4" cy="603.2" r="6.4"/><circle cx="1818.6" cy="607.8" r="6.4"/><circle cx="1831.0" cy="618.1" r="6.4"/><circle cx="1749.8" cy="627.9" r="6.4"/><circle cx="1759.3" cy="624.6" r="6.4"/><circle cx="1772.0" cy="629.0" r="6.4"/><circle cx="1786.6" cy="632.3" r="6.4"/><circle cx="1791.3" cy="631.0" r="6.4"/><circle cx="1762.9" cy="647.0" r="6.4"/><circle cx="1811.1" cy="646.2" r="6.4"/><circle cx="1845.9" cy="658.6" r="6.4"/><circle cx="1574.6" cy="634.1" r="6.4"/><circle cx="1565.6" cy="642.9" r="6.4"/><circle cx="1509.9" cy="646.5" r="6.4"/><circle cx="1489.8" cy="652.2" r="6.4"/><circle cx="1478.2" cy="657.3" r="6.4"/><circle cx="1487.8" cy="664.0" r="6.4"/><circle cx="1498.8" cy="684.1" r="6.4"/><circle cx="1620.5" cy="666.3" r="6.4"/><circle cx="1650.1" cy="652.2" r="6.4"/><circle cx="1652.7" cy="656.0" r="6.4"/><circle cx="1676.1" cy="688.7" r="6.4"/><circle cx="1827.4" cy="693.6" r="6.4"/><circle cx="1803.6" cy="752.1" r="6.4"/></g>
<g stroke="#000" stroke-width="2.4" stroke-linecap="butt"><path d="M258.0 226.0v-18.7M258.0 863.8v18.7"/><path d="M302.3 226.0v-9.9M302.3 863.8v9.9"/><path d="M346.7 226.0v-9.9M346.7 863.8v9.9"/><path d="M391.0 226.0v-18.7M391.0 863.8v18.7"/><path d="M435.3 226.0v-9.9M435.3 863.8v9.9"/><path d="M479.7 226.0v-9.9M479.7 863.8v9.9"/><path d="M524.0 226.0v-18.7M524.0 863.8v18.7"/><path d="M568.3 226.0v-9.9M568.3 863.8v9.9"/><path d="M612.7 226.0v-9.9M612.7 863.8v9.9"/><path d="M657.0 226.0v-18.7M657.0 863.8v18.7"/><path d="M701.3 226.0v-9.9M701.3 863.8v9.9"/><path d="M745.7 226.0v-9.9M745.7 863.8v9.9"/><path d="M790.0 226.0v-18.7M790.0 863.8v18.7"/><path d="M834.3 226.0v-9.9M834.3 863.8v9.9"/><path d="M878.7 226.0v-9.9M878.7 863.8v9.9"/><path d="M923.0 226.0v-18.7M923.0 863.8v18.7"/><path d="M967.3 226.0v-9.9M967.3 863.8v9.9"/><path d="M1011.7 226.0v-9.9M1011.7 863.8v9.9"/><path d="M1056.0 226.0v-18.7M1056.0 863.8v18.7"/><path d="M1100.3 226.0v-9.9M1100.3 863.8v9.9"/><path d="M1144.7 226.0v-9.9M1144.7 863.8v9.9"/><path d="M1189.0 226.0v-18.7M1189.0 863.8v18.7"/><path d="M1233.3 226.0v-9.9M1233.3 863.8v9.9"/><path d="M1277.7 226.0v-9.9M1277.7 863.8v9.9"/><path d="M1322.0 226.0v-18.7M1322.0 863.8v18.7"/><path d="M1366.3 226.0v-9.9M1366.3 863.8v9.9"/><path d="M1410.7 226.0v-9.9M1410.7 863.8v9.9"/><path d="M1455.0 226.0v-18.7M1455.0 863.8v18.7"/><path d="M1499.3 226.0v-9.9M1499.3 863.8v9.9"/><path d="M1543.7 226.0v-9.9M1543.7 863.8v9.9"/><path d="M1588.0 226.0v-18.7M1588.0 863.8v18.7"/><path d="M1632.3 226.0v-9.9M1632.3 863.8v9.9"/><path d="M1676.7 226.0v-9.9M1676.7 863.8v9.9"/><path d="M1721.0 226.0v-18.7M1721.0 863.8v18.7"/><path d="M1765.3 226.0v-9.9M1765.3 863.8v9.9"/><path d="M1809.7 226.0v-9.9M1809.7 863.8v9.9"/><path d="M1854.0 226.0v-18.7M1854.0 863.8v18.7"/><path d="M225.9 320.5h-18.7M1883.7 320.5h18.7"/><path d="M225.9 453.9h-18.7M1883.7 453.9h18.7"/><path d="M225.9 587.2h-18.7M1883.7 587.2h18.7"/><path d="M225.9 720.6h-18.7M1883.7 720.6h18.7"/><path d="M225.9 854.0h-18.7M1883.7 854.0h18.7"/></g>
<rect x="225.9" y="226.0" width="1657.8" height="637.8" fill="none" stroke="#000" stroke-width="5.8"/>
<text class="b" font-size="42.4" text-anchor="middle" transform="translate(257.7 930.4) scale(1 1.055)">0</text>
<text class="b" font-size="42.4" text-anchor="middle" transform="translate(390.7 930.4) scale(1 1.055)">6</text>
<text class="b" font-size="42.4" text-anchor="middle" transform="translate(523.7 930.4) scale(1 1.055)">12</text>
<text class="b" font-size="42.4" text-anchor="middle" transform="translate(656.7 930.4) scale(1 1.055)">18</text>
<text class="b" font-size="42.4" text-anchor="middle" transform="translate(789.7 930.4) scale(1 1.055)">24</text>
<text class="b" font-size="42.4" text-anchor="middle" transform="translate(922.7 930.4) scale(1 1.055)">30</text>
<text class="b" font-size="42.4" text-anchor="middle" transform="translate(1055.7 930.4) scale(1 1.055)">36</text>
<text class="b" font-size="42.4" text-anchor="middle" transform="translate(1188.7 930.4) scale(1 1.055)">42</text>
<text class="b" font-size="42.4" text-anchor="middle" transform="translate(1321.7 930.4) scale(1 1.055)">48</text>
<text class="b" font-size="42.4" text-anchor="middle" transform="translate(1454.7 930.4) scale(1 1.055)">54</text>
<text class="b" font-size="42.4" text-anchor="middle" transform="translate(1587.7 930.4) scale(1 1.055)">60</text>
<text class="b" font-size="42.4" text-anchor="middle" transform="translate(1720.7 930.4) scale(1 1.055)">66</text>
<text class="b" font-size="42.4" text-anchor="middle" transform="translate(1853.7 930.4) scale(1 1.055)">72</text>
<text class="b" font-size="42.4" text-anchor="end" transform="translate(190.6 336.4) scale(1 1.055)">30</text>
<text class="b" font-size="42.4" text-anchor="end" transform="translate(190.6 469.8) scale(1 1.055)">20</text>
<text class="b" font-size="42.4" text-anchor="end" transform="translate(190.6 603.1) scale(1 1.055)">10</text>
<text class="b" font-size="42.4" text-anchor="end" transform="translate(190.6 736.5) scale(1 1.055)">0</text>
<text class="b" font-size="42.4" text-anchor="end" transform="translate(190.6 869.9) scale(1 1.055)"><tspan dy="4.1">−</tspan><tspan dy="-4.1">10</tspan></text>
<text font-size="42.3" text-anchor="middle" transform="translate(90.0 544.9) rotate(-90) scale(1 1.055)">East (mm)</text>
<g fill="#0000ff"><circle cx="629.3" cy="1054.4" r="6.4"/><circle cx="573.9" cy="1091.0" r="6.4"/><circle cx="289.4" cy="1108.0" r="6.4"/><circle cx="350.2" cy="1145.1" r="6.4"/><circle cx="645.8" cy="1144.3" r="6.4"/><circle cx="303.8" cy="1164.9" r="6.4"/><circle cx="557.1" cy="1166.4" r="6.4"/><circle cx="392.5" cy="1171.1" r="6.4"/><circle cx="449.9" cy="1181.9" r="6.4"/><circle cx="475.7" cy="1195.3" r="6.4"/><circle cx="638.3" cy="1192.7" r="6.4"/><circle cx="366.7" cy="1206.1" r="6.4"/><circle cx="283.8" cy="1213.1" r="6.4"/><circle cx="302.3" cy="1211.3" r="6.4"/><circle cx="390.7" cy="1214.4" r="6.4"/><circle cx="379.6" cy="1219.5" r="6.4"/><circle cx="444.3" cy="1217.2" r="6.4"/><circle cx="451.7" cy="1219.8" r="6.4"/><circle cx="501.5" cy="1211.5" r="6.4"/><circle cx="512.5" cy="1216.2" r="6.4"/><circle cx="619.7" cy="1218.8" r="6.4"/><circle cx="538.6" cy="1224.4" r="6.4"/><circle cx="494.0" cy="1227.5" r="6.4"/><circle cx="509.2" cy="1233.4" r="6.4"/><circle cx="529.3" cy="1234.2" r="6.4"/><circle cx="547.6" cy="1232.1" r="6.4"/><circle cx="549.4" cy="1242.5" r="6.4"/><circle cx="558.7" cy="1243.5" r="6.4"/><circle cx="575.4" cy="1231.6" r="6.4"/><circle cx="634.4" cy="1239.6" r="6.4"/><circle cx="265.2" cy="1236.5" r="6.4"/><circle cx="300.2" cy="1241.9" r="6.4"/><circle cx="409.2" cy="1230.6" r="6.4"/><circle cx="426.0" cy="1229.3" r="6.4"/><circle cx="418.8" cy="1235.2" r="6.4"/><circle cx="420.1" cy="1243.7" r="6.4"/><circle cx="405.9" cy="1246.3" r="6.4"/><circle cx="411.3" cy="1248.9" r="6.4"/><circle cx="387.1" cy="1249.7" r="6.4"/><circle cx="429.6" cy="1253.3" r="6.4"/><circle cx="439.1" cy="1253.3" r="6.4"/><circle cx="601.2" cy="1249.7" r="6.4"/><circle cx="553.3" cy="1255.3" r="6.4"/><circle cx="577.2" cy="1256.4" r="6.4"/><circle cx="566.1" cy="1263.1" r="6.4"/><circle cx="525.4" cy="1254.6" r="6.4"/><circle cx="527.5" cy="1262.8" r="6.4"/><circle cx="514.6" cy="1261.5" r="6.4"/><circle cx="499.2" cy="1262.8" r="6.4"/><circle cx="505.8" cy="1270.5" r="6.4"/><circle cx="473.9" cy="1264.1" r="6.4"/><circle cx="453.5" cy="1268.2" r="6.4"/><circle cx="279.9" cy="1258.7" r="6.4"/><circle cx="296.9" cy="1254.6" r="6.4"/><circle cx="298.7" cy="1263.1" r="6.4"/><circle cx="316.7" cy="1257.7" r="6.4"/><circle cx="322.9" cy="1259.2" r="6.4"/><circle cx="318.8" cy="1271.3" r="6.4"/><circle cx="329.9" cy="1270.5" r="6.4"/><circle cx="331.9" cy="1279.0" r="6.4"/><circle cx="340.7" cy="1282.9" r="6.4"/><circle cx="352.0" cy="1273.1" r="6.4"/><circle cx="355.6" cy="1288.6" r="6.4"/><circle cx="378.1" cy="1263.6" r="6.4"/><circle cx="394.3" cy="1268.7" r="6.4"/><circle cx="396.3" cy="1273.9" r="6.4"/><circle cx="427.8" cy="1274.1" r="6.4"/><circle cx="442.2" cy="1275.2" r="6.4"/><circle cx="437.1" cy="1279.6" r="6.4"/><circle cx="257.7" cy="1269.2" r="6.4"/><circle cx="281.9" cy="1275.9" r="6.4"/><circle cx="540.4" cy="1271.1" r="6.4"/><circle cx="563.0" cy="1272.6" r="6.4"/><circle cx="564.3" cy="1283.4" r="6.4"/><circle cx="551.7" cy="1280.3" r="6.4"/><circle cx="544.5" cy="1287.5" r="6.4"/><circle cx="532.9" cy="1288.6" r="6.4"/><circle cx="534.7" cy="1296.3" r="6.4"/><circle cx="588.6" cy="1272.1" r="6.4"/><circle cx="607.1" cy="1285.5" r="6.4"/><circle cx="625.1" cy="1258.4" r="6.4"/><circle cx="632.6" cy="1268.7" r="6.4"/><circle cx="647.6" cy="1273.9" r="6.4"/><circle cx="642.1" cy="1282.1" r="6.4"/><circle cx="579.0" cy="1290.6" r="6.4"/><circle cx="583.7" cy="1295.8" r="6.4"/><circle cx="595.8" cy="1295.0" r="6.4"/><circle cx="586.5" cy="1305.6" r="6.4"/><circle cx="590.1" cy="1314.6" r="6.4"/><circle cx="594.7" cy="1312.0" r="6.4"/><circle cx="605.0" cy="1305.3" r="6.4"/><circle cx="636.5" cy="1297.6" r="6.4"/><circle cx="652.7" cy="1297.6" r="6.4"/><circle cx="626.9" cy="1314.6" r="6.4"/><circle cx="651.4" cy="1311.2" r="6.4"/><circle cx="268.8" cy="1297.6" r="6.4"/><circle cx="293.0" cy="1295.3" r="6.4"/><circle cx="278.3" cy="1309.4" r="6.4"/><circle cx="270.6" cy="1315.1" r="6.4"/><circle cx="267.3" cy="1324.9" r="6.4"/><circle cx="314.4" cy="1307.4" r="6.4"/><circle cx="311.1" cy="1310.7" r="6.4"/><circle cx="320.9" cy="1311.8" r="6.4"/><circle cx="333.7" cy="1319.8" r="6.4"/><circle cx="338.9" cy="1326.7" r="6.4"/><circle cx="343.3" cy="1331.3" r="6.4"/><circle cx="307.2" cy="1326.7" r="6.4"/><circle cx="313.6" cy="1326.2" r="6.4"/><circle cx="326.0" cy="1331.1" r="6.4"/><circle cx="309.3" cy="1338.3" r="6.4"/><circle cx="324.5" cy="1342.2" r="6.4"/><circle cx="274.5" cy="1337.5" r="6.4"/><circle cx="263.4" cy="1344.7" r="6.4"/><circle cx="287.4" cy="1342.7" r="6.4"/><circle cx="291.2" cy="1339.6" r="6.4"/><circle cx="295.1" cy="1344.0" r="6.4"/><circle cx="369.0" cy="1299.1" r="6.4"/><circle cx="363.4" cy="1301.7" r="6.4"/><circle cx="367.2" cy="1307.4" r="6.4"/><circle cx="373.2" cy="1308.7" r="6.4"/><circle cx="364.7" cy="1313.8" r="6.4"/><circle cx="359.5" cy="1322.3" r="6.4"/><circle cx="361.3" cy="1330.1" r="6.4"/><circle cx="374.2" cy="1331.1" r="6.4"/><circle cx="385.3" cy="1333.7" r="6.4"/><circle cx="389.1" cy="1341.4" r="6.4"/><circle cx="423.9" cy="1298.4" r="6.4"/><circle cx="421.9" cy="1305.3" r="6.4"/><circle cx="447.9" cy="1313.8" r="6.4"/><circle cx="462.8" cy="1316.4" r="6.4"/><circle cx="479.6" cy="1308.7" r="6.4"/><circle cx="510.2" cy="1307.4" r="6.4"/><circle cx="516.7" cy="1304.8" r="6.4"/><circle cx="523.1" cy="1316.4" r="6.4"/><circle cx="518.0" cy="1319.8" r="6.4"/><circle cx="520.0" cy="1329.3" r="6.4"/><circle cx="495.5" cy="1321.6" r="6.4"/><circle cx="492.2" cy="1326.7" r="6.4"/><circle cx="503.8" cy="1333.1" r="6.4"/><circle cx="498.1" cy="1338.3" r="6.4"/><circle cx="477.2" cy="1333.7" r="6.4"/><circle cx="455.3" cy="1335.7" r="6.4"/><circle cx="457.4" cy="1339.1" r="6.4"/><circle cx="521.8" cy="1340.9" r="6.4"/><circle cx="531.1" cy="1347.6" r="6.4"/><circle cx="490.6" cy="1348.1" r="6.4"/><circle cx="555.3" cy="1330.6" r="6.4"/><circle cx="546.0" cy="1337.3" r="6.4"/><circle cx="567.9" cy="1335.0" r="6.4"/><circle cx="584.9" cy="1339.1" r="6.4"/><circle cx="581.1" cy="1349.1" r="6.4"/><circle cx="603.0" cy="1346.5" r="6.4"/><circle cx="599.1" cy="1351.2" r="6.4"/><circle cx="650.7" cy="1340.9" r="6.4"/><circle cx="649.4" cy="1355.0" r="6.4"/><circle cx="404.1" cy="1352.2" r="6.4"/><circle cx="414.9" cy="1353.2" r="6.4"/><circle cx="433.4" cy="1348.6" r="6.4"/><circle cx="431.1" cy="1352.0" r="6.4"/><circle cx="344.6" cy="1357.6" r="6.4"/><circle cx="956.0" cy="1122.9" r="6.4"/><circle cx="957.8" cy="1150.7" r="6.4"/><circle cx="691.9" cy="1158.2" r="6.4"/><circle cx="717.6" cy="1163.4" r="6.4"/><circle cx="847.0" cy="1174.4" r="6.4"/><circle cx="1007.5" cy="1173.7" r="6.4"/><circle cx="804.5" cy="1185.3" r="6.4"/><circle cx="684.4" cy="1203.5" r="6.4"/><circle cx="693.9" cy="1206.4" r="6.4"/><circle cx="726.9" cy="1205.4" r="6.4"/><circle cx="721.0" cy="1209.5" r="6.4"/><circle cx="839.5" cy="1221.8" r="6.4"/><circle cx="849.0" cy="1221.3" r="6.4"/><circle cx="1003.9" cy="1222.6" r="6.4"/><circle cx="664.3" cy="1232.7" r="6.4"/><circle cx="706.6" cy="1234.0" r="6.4"/><circle cx="708.6" cy="1242.5" r="6.4"/><circle cx="704.8" cy="1251.2" r="6.4"/><circle cx="712.0" cy="1257.1" r="6.4"/><circle cx="728.7" cy="1241.7" r="6.4"/><circle cx="745.2" cy="1232.9" r="6.4"/><circle cx="741.6" cy="1250.7" r="6.4"/><circle cx="753.2" cy="1249.7" r="6.4"/><circle cx="723.1" cy="1257.9" r="6.4"/><circle cx="690.1" cy="1260.2" r="6.4"/><circle cx="808.1" cy="1244.3" r="6.4"/><circle cx="795.2" cy="1256.4" r="6.4"/><circle cx="817.4" cy="1259.7" r="6.4"/><circle cx="845.2" cy="1255.9" r="6.4"/><circle cx="850.8" cy="1254.6" r="6.4"/><circle cx="959.6" cy="1248.1" r="6.4"/><circle cx="1005.7" cy="1241.7" r="6.4"/><circle cx="1011.6" cy="1240.9" r="6.4"/><circle cx="1000.0" cy="1248.1" r="6.4"/><circle cx="1048.2" cy="1239.1" r="6.4"/><circle cx="1044.3" cy="1241.7" r="6.4"/><circle cx="1054.7" cy="1256.4" r="6.4"/><circle cx="926.3" cy="1259.2" r="6.4"/><circle cx="896.7" cy="1272.1" r="6.4"/><circle cx="924.5" cy="1276.2" r="6.4"/><circle cx="869.1" cy="1276.7" r="6.4"/><circle cx="948.5" cy="1271.1" r="6.4"/><circle cx="953.9" cy="1282.9" r="6.4"/><circle cx="1024.2" cy="1272.6" r="6.4"/><circle cx="1042.8" cy="1271.1" r="6.4"/><circle cx="1031.5" cy="1286.5" r="6.4"/><circle cx="719.7" cy="1272.1" r="6.4"/><circle cx="738.3" cy="1279.0" r="6.4"/><circle cx="749.3" cy="1280.3" r="6.4"/><circle cx="786.2" cy="1273.1" r="6.4"/><circle cx="787.7" cy="1288.6" r="6.4"/><circle cx="688.3" cy="1294.0" r="6.4"/><circle cx="740.3" cy="1294.5" r="6.4"/><circle cx="748.0" cy="1294.0" r="6.4"/><circle cx="751.1" cy="1299.7" r="6.4"/><circle cx="758.3" cy="1295.3" r="6.4"/><circle cx="771.2" cy="1294.0" r="6.4"/><circle cx="811.7" cy="1290.1" r="6.4"/><circle cx="819.4" cy="1291.4" r="6.4"/><circle cx="832.3" cy="1294.5" r="6.4"/><circle cx="856.0" cy="1292.7" r="6.4"/><circle cx="865.8" cy="1293.2" r="6.4"/><circle cx="873.0" cy="1297.1" r="6.4"/><circle cx="876.9" cy="1300.9" r="6.4"/><circle cx="852.4" cy="1305.1" r="6.4"/><circle cx="789.5" cy="1300.4" r="6.4"/><circle cx="780.2" cy="1306.9" r="6.4"/><circle cx="791.8" cy="1310.0" r="6.4"/><circle cx="798.3" cy="1313.1" r="6.4"/><circle cx="802.9" cy="1316.4" r="6.4"/><circle cx="682.6" cy="1312.0" r="6.4"/><circle cx="715.8" cy="1309.4" r="6.4"/><circle cx="725.4" cy="1306.6" r="6.4"/><circle cx="732.3" cy="1316.9" r="6.4"/><circle cx="730.5" cy="1328.5" r="6.4"/><circle cx="833.8" cy="1319.0" r="6.4"/><circle cx="892.3" cy="1311.5" r="6.4"/><circle cx="920.7" cy="1311.5" r="6.4"/><circle cx="935.4" cy="1319.8" r="6.4"/><circle cx="945.1" cy="1322.8" r="6.4"/><circle cx="967.0" cy="1315.6" r="6.4"/><circle cx="971.4" cy="1321.6" r="6.4"/><circle cx="972.2" cy="1331.1" r="6.4"/><circle cx="981.7" cy="1331.9" r="6.4"/><circle cx="996.4" cy="1327.7" r="6.4"/><circle cx="1020.4" cy="1313.1" r="6.4"/><circle cx="1029.9" cy="1306.6" r="6.4"/><circle cx="1046.4" cy="1305.6" r="6.4"/><circle cx="778.4" cy="1325.4" r="6.4"/><circle cx="806.0" cy="1328.5" r="6.4"/><circle cx="814.3" cy="1335.0" r="6.4"/><circle cx="809.9" cy="1344.7" r="6.4"/><circle cx="853.7" cy="1329.3" r="6.4"/><circle cx="864.0" cy="1326.2" r="6.4"/><circle cx="871.7" cy="1325.9" r="6.4"/><circle cx="911.1" cy="1324.9" r="6.4"/><circle cx="898.8" cy="1330.6" r="6.4"/><circle cx="907.8" cy="1335.0" r="6.4"/><circle cx="922.7" cy="1328.5" r="6.4"/><circle cx="767.4" cy="1339.6" r="6.4"/><circle cx="793.4" cy="1346.3" r="6.4"/><circle cx="659.7" cy="1307.4" r="6.4"/><circle cx="655.3" cy="1317.2" r="6.4"/><circle cx="661.7" cy="1322.3" r="6.4"/><circle cx="660.4" cy="1342.2" r="6.4"/><circle cx="670.0" cy="1338.8" r="6.4"/><circle cx="674.1" cy="1345.5" r="6.4"/><circle cx="696.5" cy="1345.5" r="6.4"/><circle cx="703.0" cy="1348.6" r="6.4"/><circle cx="710.7" cy="1344.7" r="6.4"/><circle cx="734.1" cy="1346.5" r="6.4"/><circle cx="743.7" cy="1354.3" r="6.4"/><circle cx="756.3" cy="1357.6" r="6.4"/><circle cx="686.2" cy="1358.4" r="6.4"/><circle cx="784.1" cy="1358.9" r="6.4"/><circle cx="822.8" cy="1356.9" r="6.4"/><circle cx="837.7" cy="1356.3" r="6.4"/><circle cx="859.9" cy="1349.9" r="6.4"/><circle cx="874.6" cy="1345.0" r="6.4"/><circle cx="894.9" cy="1349.9" r="6.4"/><circle cx="909.6" cy="1348.1" r="6.4"/><circle cx="952.1" cy="1350.2" r="6.4"/><circle cx="974.5" cy="1348.6" r="6.4"/><circle cx="1009.6" cy="1348.9" r="6.4"/><circle cx="1028.1" cy="1353.2" r="6.4"/><circle cx="1053.9" cy="1346.0" r="6.4"/><circle cx="882.0" cy="1360.2" r="6.4"/><circle cx="1157.2" cy="1074.5" r="6.4"/><circle cx="1150.0" cy="1123.7" r="6.4"/><circle cx="1153.6" cy="1140.2" r="6.4"/><circle cx="1164.7" cy="1168.2" r="6.4"/><circle cx="1092.5" cy="1174.7" r="6.4"/><circle cx="1341.7" cy="1181.1" r="6.4"/><circle cx="1081.4" cy="1199.9" r="6.4"/><circle cx="1426.7" cy="1203.3" r="6.4"/><circle cx="1399.4" cy="1207.4" r="6.4"/><circle cx="1103.6" cy="1218.5" r="6.4"/><circle cx="1151.5" cy="1211.0" r="6.4"/><circle cx="1144.3" cy="1214.9" r="6.4"/><circle cx="1168.3" cy="1219.8" r="6.4"/><circle cx="1162.6" cy="1233.2" r="6.4"/><circle cx="1242.2" cy="1216.2" r="6.4"/><circle cx="1251.2" cy="1219.8" r="6.4"/><circle cx="1245.6" cy="1235.0" r="6.4"/><circle cx="1269.8" cy="1232.4" r="6.4"/><circle cx="1329.1" cy="1215.1" r="6.4"/><circle cx="1330.6" cy="1223.9" r="6.4"/><circle cx="1351.0" cy="1219.8" r="6.4"/><circle cx="1365.6" cy="1221.8" r="6.4"/><circle cx="1415.6" cy="1219.3" r="6.4"/><circle cx="1334.5" cy="1238.3" r="6.4"/><circle cx="1349.4" cy="1240.4" r="6.4"/><circle cx="1325.4" cy="1247.3" r="6.4"/><circle cx="1327.5" cy="1255.3" r="6.4"/><circle cx="1362.0" cy="1251.0" r="6.4"/><circle cx="1403.0" cy="1243.5" r="6.4"/><circle cx="1428.5" cy="1249.9" r="6.4"/><circle cx="1450.7" cy="1250.7" r="6.4"/><circle cx="1454.8" cy="1263.3" r="6.4"/><circle cx="1078.1" cy="1245.8" r="6.4"/><circle cx="1100.0" cy="1253.0" r="6.4"/><circle cx="1129.6" cy="1245.3" r="6.4"/><circle cx="1086.9" cy="1264.4" r="6.4"/><circle cx="1166.5" cy="1250.7" r="6.4"/><circle cx="1175.7" cy="1256.4" r="6.4"/><circle cx="1161.1" cy="1266.2" r="6.4"/><circle cx="1155.4" cy="1270.3" r="6.4"/><circle cx="1194.0" cy="1264.1" r="6.4"/><circle cx="1244.0" cy="1265.1" r="6.4"/><circle cx="1271.6" cy="1263.3" r="6.4"/><circle cx="1343.5" cy="1261.8" r="6.4"/><circle cx="1369.8" cy="1261.8" r="6.4"/><circle cx="1364.1" cy="1268.2" r="6.4"/><circle cx="1367.7" cy="1275.2" r="6.4"/><circle cx="1386.0" cy="1261.5" r="6.4"/><circle cx="1112.9" cy="1275.2" r="6.4"/><circle cx="1101.8" cy="1284.5" r="6.4"/><circle cx="1122.2" cy="1287.8" r="6.4"/><circle cx="1177.6" cy="1276.5" r="6.4"/><circle cx="1170.1" cy="1281.6" r="6.4"/><circle cx="1186.3" cy="1288.8" r="6.4"/><circle cx="1184.8" cy="1299.1" r="6.4"/><circle cx="1172.1" cy="1304.0" r="6.4"/><circle cx="1255.9" cy="1273.1" r="6.4"/><circle cx="1262.8" cy="1272.6" r="6.4"/><circle cx="1248.1" cy="1285.5" r="6.4"/><circle cx="1257.7" cy="1282.9" r="6.4"/><circle cx="1273.1" cy="1281.6" r="6.4"/><circle cx="1259.0" cy="1291.9" r="6.4"/><circle cx="1268.0" cy="1289.3" r="6.4"/><circle cx="1277.0" cy="1291.4" r="6.4"/><circle cx="1264.1" cy="1296.6" r="6.4"/><circle cx="1283.4" cy="1297.8" r="6.4"/><circle cx="1275.7" cy="1304.3" r="6.4"/><circle cx="1265.9" cy="1306.6" r="6.4"/><circle cx="1236.3" cy="1288.8" r="6.4"/><circle cx="1238.4" cy="1292.4" r="6.4"/><circle cx="1249.4" cy="1306.6" r="6.4"/><circle cx="1239.9" cy="1311.5" r="6.4"/><circle cx="1221.6" cy="1305.1" r="6.4"/><circle cx="1217.7" cy="1314.3" r="6.4"/><circle cx="1253.0" cy="1325.2" r="6.4"/><circle cx="1280.9" cy="1319.8" r="6.4"/><circle cx="1278.8" cy="1323.4" r="6.4"/><circle cx="1297.6" cy="1310.7" r="6.4"/><circle cx="1316.2" cy="1282.9" r="6.4"/><circle cx="1320.0" cy="1307.9" r="6.4"/><circle cx="1321.3" cy="1318.2" r="6.4"/><circle cx="1323.4" cy="1322.1" r="6.4"/><circle cx="1332.7" cy="1304.3" r="6.4"/><circle cx="1345.8" cy="1289.9" r="6.4"/><circle cx="1356.4" cy="1284.7" r="6.4"/><circle cx="1353.0" cy="1296.6" r="6.4"/><circle cx="1371.3" cy="1287.8" r="6.4"/><circle cx="1378.8" cy="1297.1" r="6.4"/><circle cx="1391.7" cy="1291.2" r="6.4"/><circle cx="1447.1" cy="1283.4" r="6.4"/><circle cx="1441.4" cy="1292.4" r="6.4"/><circle cx="1452.7" cy="1297.8" r="6.4"/><circle cx="1456.1" cy="1309.4" r="6.4"/><circle cx="1408.4" cy="1304.3" r="6.4"/><circle cx="1405.8" cy="1313.8" r="6.4"/><circle cx="1411.0" cy="1314.6" r="6.4"/><circle cx="1425.2" cy="1309.4" r="6.4"/><circle cx="1432.9" cy="1311.2" r="6.4"/><circle cx="1440.1" cy="1310.7" r="6.4"/><circle cx="1438.0" cy="1319.8" r="6.4"/><circle cx="1358.7" cy="1320.3" r="6.4"/><circle cx="1377.0" cy="1316.9" r="6.4"/><circle cx="1384.2" cy="1326.2" r="6.4"/><circle cx="1389.1" cy="1338.3" r="6.4"/><circle cx="1393.5" cy="1350.7" r="6.4"/><circle cx="1449.1" cy="1332.4" r="6.4"/><circle cx="1458.1" cy="1345.5" r="6.4"/><circle cx="1421.3" cy="1344.7" r="6.4"/><circle cx="1414.8" cy="1349.1" r="6.4"/><circle cx="1419.2" cy="1356.9" r="6.4"/><circle cx="1338.1" cy="1336.5" r="6.4"/><circle cx="1347.1" cy="1337.8" r="6.4"/><circle cx="1355.1" cy="1342.9" r="6.4"/><circle cx="1336.3" cy="1349.1" r="6.4"/><circle cx="1317.7" cy="1342.7" r="6.4"/><circle cx="1299.4" cy="1334.2" r="6.4"/><circle cx="1079.6" cy="1297.1" r="6.4"/><circle cx="1083.2" cy="1303.5" r="6.4"/><circle cx="1070.4" cy="1310.0" r="6.4"/><circle cx="1096.1" cy="1300.4" r="6.4"/><circle cx="1107.5" cy="1297.1" r="6.4"/><circle cx="1105.7" cy="1306.1" r="6.4"/><circle cx="1116.0" cy="1307.4" r="6.4"/><circle cx="1119.1" cy="1311.2" r="6.4"/><circle cx="1138.6" cy="1310.0" r="6.4"/><circle cx="1097.9" cy="1319.5" r="6.4"/><circle cx="1094.1" cy="1325.4" r="6.4"/><circle cx="1068.8" cy="1328.0" r="6.4"/><circle cx="1072.2" cy="1336.5" r="6.4"/><circle cx="1090.5" cy="1336.2" r="6.4"/><circle cx="1074.0" cy="1349.4" r="6.4"/><circle cx="1088.9" cy="1352.7" r="6.4"/><circle cx="1063.2" cy="1355.8" r="6.4"/><circle cx="1142.5" cy="1344.2" r="6.4"/><circle cx="1110.8" cy="1353.8" r="6.4"/><circle cx="1119.8" cy="1356.9" r="6.4"/><circle cx="1126.3" cy="1358.4" r="6.4"/><circle cx="1192.0" cy="1326.7" r="6.4"/><circle cx="1196.1" cy="1338.3" r="6.4"/><circle cx="1179.4" cy="1350.4" r="6.4"/><circle cx="1183.0" cy="1356.3" r="6.4"/><circle cx="1233.2" cy="1347.3" r="6.4"/><circle cx="1210.5" cy="1355.0" r="6.4"/><circle cx="1216.5" cy="1359.4" r="6.4"/><circle cx="1382.1" cy="1357.6" r="6.4"/><circle cx="1687.4" cy="1076.5" r="6.4"/><circle cx="1694.4" cy="1099.2" r="6.4"/><circle cx="1537.8" cy="1133.7" r="6.4"/><circle cx="1633.9" cy="1134.8" r="6.4"/><circle cx="1790.5" cy="1131.4" r="6.4"/><circle cx="1611.4" cy="1167.2" r="6.4"/><circle cx="1679.7" cy="1171.1" r="6.4"/><circle cx="1683.6" cy="1185.0" r="6.4"/><circle cx="1675.9" cy="1196.3" r="6.4"/><circle cx="1690.8" cy="1198.4" r="6.4"/><circle cx="1574.6" cy="1181.6" r="6.4"/><circle cx="1585.7" cy="1194.0" r="6.4"/><circle cx="1487.8" cy="1193.2" r="6.4"/><circle cx="1489.6" cy="1204.6" r="6.4"/><circle cx="1530.3" cy="1205.9" r="6.4"/><circle cx="1635.4" cy="1201.0" r="6.4"/><circle cx="1639.3" cy="1209.5" r="6.4"/><circle cx="1801.6" cy="1199.9" r="6.4"/><circle cx="1792.6" cy="1206.4" r="6.4"/><circle cx="1809.1" cy="1218.0" r="6.4"/><circle cx="1465.3" cy="1218.5" r="6.4"/><circle cx="1506.3" cy="1218.2" r="6.4"/><circle cx="1484.4" cy="1231.4" r="6.4"/><circle cx="1486.0" cy="1243.7" r="6.4"/><circle cx="1493.7" cy="1250.2" r="6.4"/><circle cx="1622.5" cy="1226.5" r="6.4"/><circle cx="1705.5" cy="1221.8" r="6.4"/><circle cx="1775.8" cy="1227.3" r="6.4"/><circle cx="1794.4" cy="1238.3" r="6.4"/><circle cx="1602.4" cy="1241.2" r="6.4"/><circle cx="1615.3" cy="1241.2" r="6.4"/><circle cx="1613.2" cy="1251.5" r="6.4"/><circle cx="1626.4" cy="1249.7" r="6.4"/><circle cx="1648.5" cy="1251.5" r="6.4"/><circle cx="1659.6" cy="1239.1" r="6.4"/><circle cx="1661.7" cy="1243.7" r="6.4"/><circle cx="1711.2" cy="1241.9" r="6.4"/><circle cx="1700.3" cy="1245.8" r="6.4"/><circle cx="1709.9" cy="1252.8" r="6.4"/><circle cx="1703.7" cy="1258.9" r="6.4"/><circle cx="1847.7" cy="1258.7" r="6.4"/><circle cx="1511.7" cy="1252.8" r="6.4"/><circle cx="1509.2" cy="1260.5" r="6.4"/><circle cx="1503.2" cy="1261.8" r="6.4"/><circle cx="1500.6" cy="1270.0" r="6.4"/><circle cx="1532.1" cy="1260.7" r="6.4"/><circle cx="1674.0" cy="1267.4" r="6.4"/><circle cx="1745.4" cy="1261.0" r="6.4"/><circle cx="1753.9" cy="1263.1" r="6.4"/><circle cx="1746.7" cy="1270.8" r="6.4"/><circle cx="1751.9" cy="1272.1" r="6.4"/><circle cx="1768.1" cy="1253.3" r="6.4"/><circle cx="1764.7" cy="1256.4" r="6.4"/><circle cx="1777.6" cy="1261.8" r="6.4"/><circle cx="1773.8" cy="1268.7" r="6.4"/><circle cx="1769.9" cy="1275.2" r="6.4"/><circle cx="1798.2" cy="1259.2" r="6.4"/><circle cx="1804.2" cy="1257.9" r="6.4"/><circle cx="1808.0" cy="1260.5" r="6.4"/><circle cx="1796.2" cy="1268.2" r="6.4"/><circle cx="1590.1" cy="1273.1" r="6.4"/><circle cx="1598.6" cy="1272.6" r="6.4"/><circle cx="1604.2" cy="1283.4" r="6.4"/><circle cx="1616.6" cy="1272.6" r="6.4"/><circle cx="1621.7" cy="1270.8" r="6.4"/><circle cx="1632.1" cy="1271.3" r="6.4"/><circle cx="1638.5" cy="1273.1" r="6.4"/><circle cx="1624.3" cy="1282.9" r="6.4"/><circle cx="1696.5" cy="1271.3" r="6.4"/><circle cx="1688.7" cy="1279.0" r="6.4"/><circle cx="1700.3" cy="1277.0" r="6.4"/><circle cx="1708.1" cy="1278.5" r="6.4"/><circle cx="1715.8" cy="1272.1" r="6.4"/><circle cx="1692.9" cy="1289.3" r="6.4"/><circle cx="1713.2" cy="1290.1" r="6.4"/><circle cx="1724.3" cy="1291.2" r="6.4"/><circle cx="1781.5" cy="1279.0" r="6.4"/><circle cx="1789.2" cy="1282.9" r="6.4"/><circle cx="1799.5" cy="1290.1" r="6.4"/><circle cx="1807.3" cy="1293.2" r="6.4"/><circle cx="1811.1" cy="1303.0" r="6.4"/><circle cx="1813.7" cy="1286.8" r="6.4"/><circle cx="1819.6" cy="1285.5" r="6.4"/><circle cx="1825.8" cy="1291.2" r="6.4"/><circle cx="1772.2" cy="1294.0" r="6.4"/><circle cx="1678.2" cy="1296.3" r="6.4"/><circle cx="1480.6" cy="1283.9" r="6.4"/><circle cx="1464.1" cy="1291.2" r="6.4"/><circle cx="1482.6" cy="1297.1" r="6.4"/><circle cx="1554.2" cy="1279.3" r="6.4"/><circle cx="1576.7" cy="1285.0" r="6.4"/><circle cx="1580.0" cy="1296.0" r="6.4"/><circle cx="1601.1" cy="1293.2" r="6.4"/><circle cx="1594.7" cy="1297.1" r="6.4"/><circle cx="1533.6" cy="1291.9" r="6.4"/><circle cx="1535.9" cy="1305.3" r="6.4"/><circle cx="1502.5" cy="1298.6" r="6.4"/><circle cx="1513.5" cy="1296.6" r="6.4"/><circle cx="1519.5" cy="1297.6" r="6.4"/><circle cx="1515.6" cy="1314.1" r="6.4"/><circle cx="1497.3" cy="1319.2" r="6.4"/><circle cx="1563.8" cy="1300.9" r="6.4"/><circle cx="1558.6" cy="1306.1" r="6.4"/><circle cx="1552.2" cy="1315.1" r="6.4"/><circle cx="1561.2" cy="1313.8" r="6.4"/><circle cx="1567.6" cy="1312.5" r="6.4"/><circle cx="1559.4" cy="1321.6" r="6.4"/><circle cx="1578.5" cy="1308.2" r="6.4"/><circle cx="1629.5" cy="1310.0" r="6.4"/><circle cx="1627.7" cy="1312.5" r="6.4"/><circle cx="1641.1" cy="1304.0" r="6.4"/><circle cx="1642.9" cy="1308.7" r="6.4"/><circle cx="1667.1" cy="1318.5" r="6.4"/><circle cx="1681.5" cy="1311.5" r="6.4"/><circle cx="1731.5" cy="1311.5" r="6.4"/><circle cx="1748.0" cy="1306.6" r="6.4"/><circle cx="1787.2" cy="1311.5" r="6.4"/><circle cx="1827.9" cy="1310.7" r="6.4"/><circle cx="1835.6" cy="1311.2" r="6.4"/><circle cx="1824.5" cy="1319.0" r="6.4"/><circle cx="1851.8" cy="1315.1" r="6.4"/><circle cx="1831.7" cy="1328.0" r="6.4"/><circle cx="1839.5" cy="1331.1" r="6.4"/><circle cx="1844.1" cy="1341.7" r="6.4"/><circle cx="1822.2" cy="1338.3" r="6.4"/><circle cx="1814.5" cy="1343.5" r="6.4"/><circle cx="1784.1" cy="1324.9" r="6.4"/><circle cx="1779.4" cy="1334.4" r="6.4"/><circle cx="1750.1" cy="1326.7" r="6.4"/><circle cx="1760.9" cy="1335.0" r="6.4"/><circle cx="1766.8" cy="1344.0" r="6.4"/><circle cx="1726.1" cy="1328.0" r="6.4"/><circle cx="1719.7" cy="1333.1" r="6.4"/><circle cx="1717.1" cy="1344.2" r="6.4"/><circle cx="1701.9" cy="1336.8" r="6.4"/><circle cx="1652.7" cy="1321.6" r="6.4"/><circle cx="1654.7" cy="1327.5" r="6.4"/><circle cx="1650.1" cy="1333.1" r="6.4"/><circle cx="1656.5" cy="1340.9" r="6.4"/><circle cx="1665.0" cy="1349.1" r="6.4"/><circle cx="1581.8" cy="1326.2" r="6.4"/><circle cx="1588.2" cy="1327.2" r="6.4"/><circle cx="1597.3" cy="1329.3" r="6.4"/><circle cx="1608.1" cy="1329.3" r="6.4"/><circle cx="1609.6" cy="1342.7" r="6.4"/><circle cx="1618.9" cy="1349.9" r="6.4"/><circle cx="1561.7" cy="1333.7" r="6.4"/><circle cx="1568.9" cy="1344.7" r="6.4"/><circle cx="1571.5" cy="1352.5" r="6.4"/><circle cx="1584.4" cy="1355.0" r="6.4"/><circle cx="1592.1" cy="1356.3" r="6.4"/><circle cx="1606.3" cy="1359.4" r="6.4"/><circle cx="1556.0" cy="1356.9" r="6.4"/><circle cx="1543.2" cy="1347.6" r="6.4"/><circle cx="1520.7" cy="1337.8" r="6.4"/><circle cx="1526.4" cy="1340.9" r="6.4"/><circle cx="1524.6" cy="1348.6" r="6.4"/><circle cx="1508.4" cy="1333.4" r="6.4"/><circle cx="1469.2" cy="1335.2" r="6.4"/><circle cx="1494.2" cy="1356.3" r="6.4"/><circle cx="1499.4" cy="1355.8" r="6.4"/><circle cx="272.7" cy="1364.1" r="6.4"/><circle cx="328.1" cy="1373.1" r="6.4"/><circle cx="335.5" cy="1382.6" r="6.4"/><circle cx="381.4" cy="1371.0" r="6.4"/><circle cx="400.0" cy="1369.2" r="6.4"/><circle cx="435.0" cy="1374.1" r="6.4"/><circle cx="446.3" cy="1368.7" r="6.4"/><circle cx="488.6" cy="1367.7" r="6.4"/><circle cx="570.3" cy="1366.4" r="6.4"/><circle cx="542.4" cy="1374.9" r="6.4"/><circle cx="536.5" cy="1378.7" r="6.4"/><circle cx="614.1" cy="1367.7" r="6.4"/><circle cx="616.4" cy="1370.2" r="6.4"/><circle cx="623.6" cy="1380.8" r="6.4"/><circle cx="640.1" cy="1381.1" r="6.4"/><circle cx="357.4" cy="1382.4" r="6.4"/><circle cx="261.6" cy="1393.4" r="6.4"/><circle cx="305.9" cy="1398.1" r="6.4"/><circle cx="276.3" cy="1408.4" r="6.4"/><circle cx="376.2" cy="1391.9" r="6.4"/><circle cx="370.3" cy="1404.5" r="6.4"/><circle cx="383.5" cy="1408.9" r="6.4"/><circle cx="353.8" cy="1413.3" r="6.4"/><circle cx="412.3" cy="1386.5" r="6.4"/><circle cx="416.7" cy="1391.1" r="6.4"/><circle cx="440.7" cy="1391.1" r="6.4"/><circle cx="464.6" cy="1388.5" r="6.4"/><circle cx="460.8" cy="1391.6" r="6.4"/><circle cx="560.5" cy="1401.4" r="6.4"/><circle cx="571.8" cy="1400.1" r="6.4"/><circle cx="617.9" cy="1400.1" r="6.4"/><circle cx="621.5" cy="1405.3" r="6.4"/><circle cx="459.0" cy="1418.9" r="6.4"/><circle cx="481.4" cy="1419.5" r="6.4"/><circle cx="483.2" cy="1429.5" r="6.4"/><circle cx="469.8" cy="1428.5" r="6.4"/><circle cx="485.0" cy="1447.5" r="6.4"/><circle cx="486.8" cy="1464.3" r="6.4"/><circle cx="466.4" cy="1467.4" r="6.4"/><circle cx="472.1" cy="1485.4" r="6.4"/><circle cx="398.2" cy="1452.4" r="6.4"/><circle cx="346.4" cy="1459.1" r="6.4"/><circle cx="348.4" cy="1475.4" r="6.4"/><circle cx="337.3" cy="1481.0" r="6.4"/><circle cx="285.6" cy="1459.7" r="6.4"/><circle cx="597.6" cy="1449.6" r="6.4"/><circle cx="610.5" cy="1445.5" r="6.4"/><circle cx="630.6" cy="1449.6" r="6.4"/><circle cx="612.8" cy="1472.8" r="6.4"/><circle cx="608.1" cy="1478.5" r="6.4"/><circle cx="401.8" cy="1514.3" r="6.4"/><circle cx="468.2" cy="1529.2" r="6.4"/><circle cx="643.7" cy="1526.4" r="6.4"/><circle cx="670.2" cy="1365.6" r="6.4"/><circle cx="666.9" cy="1370.2" r="6.4"/><circle cx="763.5" cy="1366.6" r="6.4"/><circle cx="800.6" cy="1372.3" r="6.4"/><circle cx="826.1" cy="1371.8" r="6.4"/><circle cx="824.1" cy="1379.0" r="6.4"/><circle cx="829.2" cy="1385.7" r="6.4"/><circle cx="821.0" cy="1392.4" r="6.4"/><circle cx="841.3" cy="1375.4" r="6.4"/><circle cx="843.4" cy="1382.6" r="6.4"/><circle cx="835.9" cy="1396.8" r="6.4"/><circle cx="857.5" cy="1375.4" r="6.4"/><circle cx="867.3" cy="1375.4" r="6.4"/><circle cx="902.4" cy="1375.7" r="6.4"/><circle cx="916.8" cy="1374.4" r="6.4"/><circle cx="915.0" cy="1378.7" r="6.4"/><circle cx="939.2" cy="1371.0" r="6.4"/><circle cx="950.3" cy="1364.1" r="6.4"/><circle cx="965.0" cy="1371.0" r="6.4"/><circle cx="979.9" cy="1364.6" r="6.4"/><circle cx="976.1" cy="1380.0" r="6.4"/><circle cx="983.8" cy="1380.6" r="6.4"/><circle cx="985.9" cy="1387.0" r="6.4"/><circle cx="963.2" cy="1387.5" r="6.4"/><circle cx="1001.8" cy="1368.4" r="6.4"/><circle cx="1012.7" cy="1374.1" r="6.4"/><circle cx="1018.6" cy="1374.9" r="6.4"/><circle cx="1034.0" cy="1371.8" r="6.4"/><circle cx="1037.9" cy="1374.4" r="6.4"/><circle cx="1041.3" cy="1379.5" r="6.4"/><circle cx="1052.6" cy="1381.3" r="6.4"/><circle cx="754.5" cy="1378.5" r="6.4"/><circle cx="769.2" cy="1385.7" r="6.4"/><circle cx="777.2" cy="1383.4" r="6.4"/><circle cx="774.6" cy="1387.8" r="6.4"/><circle cx="695.7" cy="1401.9" r="6.4"/><circle cx="736.2" cy="1414.0" r="6.4"/><circle cx="765.6" cy="1426.9" r="6.4"/><circle cx="782.3" cy="1444.2" r="6.4"/><circle cx="815.5" cy="1437.2" r="6.4"/><circle cx="830.2" cy="1425.9" r="6.4"/><circle cx="861.7" cy="1433.4" r="6.4"/><circle cx="880.2" cy="1415.6" r="6.4"/><circle cx="889.2" cy="1428.5" r="6.4"/><circle cx="906.0" cy="1406.3" r="6.4"/><circle cx="900.1" cy="1411.5" r="6.4"/><circle cx="930.2" cy="1403.2" r="6.4"/><circle cx="937.4" cy="1412.2" r="6.4"/><circle cx="912.9" cy="1427.7" r="6.4"/><circle cx="919.4" cy="1426.4" r="6.4"/><circle cx="903.9" cy="1435.2" r="6.4"/><circle cx="991.0" cy="1404.0" r="6.4"/><circle cx="1025.8" cy="1402.7" r="6.4"/><circle cx="1035.6" cy="1412.8" r="6.4"/><circle cx="1022.2" cy="1422.5" r="6.4"/><circle cx="968.9" cy="1425.6" r="6.4"/><circle cx="988.9" cy="1423.6" r="6.4"/><circle cx="1038.9" cy="1435.7" r="6.4"/><circle cx="1016.8" cy="1444.2" r="6.4"/><circle cx="987.4" cy="1446.0" r="6.4"/><circle cx="977.9" cy="1454.2" r="6.4"/><circle cx="998.5" cy="1454.0" r="6.4"/><circle cx="994.6" cy="1465.1" r="6.4"/><circle cx="992.3" cy="1468.2" r="6.4"/><circle cx="961.4" cy="1470.5" r="6.4"/><circle cx="1014.7" cy="1472.8" r="6.4"/><circle cx="1050.0" cy="1455.0" r="6.4"/><circle cx="928.1" cy="1460.2" r="6.4"/><circle cx="885.6" cy="1463.0" r="6.4"/><circle cx="680.8" cy="1433.4" r="6.4"/><circle cx="675.1" cy="1437.2" r="6.4"/><circle cx="701.2" cy="1434.4" r="6.4"/><circle cx="714.3" cy="1437.2" r="6.4"/><circle cx="676.9" cy="1454.8" r="6.4"/><circle cx="678.7" cy="1463.8" r="6.4"/><circle cx="699.1" cy="1456.6" r="6.4"/><circle cx="760.2" cy="1467.9" r="6.4"/><circle cx="773.0" cy="1488.2" r="6.4"/><circle cx="762.0" cy="1512.0" r="6.4"/><circle cx="878.2" cy="1488.2" r="6.4"/><circle cx="883.8" cy="1511.4" r="6.4"/><circle cx="933.8" cy="1503.5" r="6.4"/><circle cx="943.1" cy="1518.7" r="6.4"/><circle cx="887.7" cy="1558.6" r="6.4"/><circle cx="946.7" cy="1574.0" r="6.4"/><circle cx="931.8" cy="1590.8" r="6.4"/><circle cx="941.3" cy="1667.1" r="6.4"/><circle cx="1065.7" cy="1367.7" r="6.4"/><circle cx="1061.9" cy="1380.8" r="6.4"/><circle cx="1060.1" cy="1387.8" r="6.4"/><circle cx="1146.4" cy="1368.4" r="6.4"/><circle cx="1141.0" cy="1374.4" r="6.4"/><circle cx="1135.3" cy="1380.6" r="6.4"/><circle cx="1129.6" cy="1385.7" r="6.4"/><circle cx="1124.5" cy="1390.9" r="6.4"/><circle cx="1132.2" cy="1390.9" r="6.4"/><circle cx="1130.9" cy="1396.8" r="6.4"/><circle cx="1159.0" cy="1363.5" r="6.4"/><circle cx="1234.5" cy="1363.5" r="6.4"/><circle cx="1220.3" cy="1372.3" r="6.4"/><circle cx="1214.7" cy="1379.5" r="6.4"/><circle cx="1340.1" cy="1363.0" r="6.4"/><circle cx="1372.9" cy="1370.5" r="6.4"/><circle cx="1375.4" cy="1362.5" r="6.4"/><circle cx="1397.3" cy="1365.1" r="6.4"/><circle cx="1412.3" cy="1370.2" r="6.4"/><circle cx="1147.9" cy="1398.1" r="6.4"/><circle cx="1137.1" cy="1412.8" r="6.4"/><circle cx="1190.4" cy="1380.3" r="6.4"/><circle cx="1203.3" cy="1379.5" r="6.4"/><circle cx="1212.6" cy="1389.8" r="6.4"/><circle cx="1197.9" cy="1403.2" r="6.4"/><circle cx="1223.4" cy="1408.4" r="6.4"/><circle cx="1225.5" cy="1420.2" r="6.4"/><circle cx="1173.9" cy="1424.4" r="6.4"/><circle cx="1188.4" cy="1427.4" r="6.4"/><circle cx="1201.5" cy="1428.5" r="6.4"/><circle cx="1076.0" cy="1432.3" r="6.4"/><circle cx="1085.3" cy="1433.4" r="6.4"/><circle cx="1181.2" cy="1454.8" r="6.4"/><circle cx="1231.1" cy="1448.1" r="6.4"/><circle cx="1205.1" cy="1474.3" r="6.4"/><circle cx="1199.5" cy="1483.6" r="6.4"/><circle cx="1227.3" cy="1482.1" r="6.4"/><circle cx="1209.0" cy="1520.5" r="6.4"/><circle cx="1229.3" cy="1522.3" r="6.4"/><circle cx="1206.9" cy="1544.2" r="6.4"/><circle cx="1304.8" cy="1388.5" r="6.4"/><circle cx="1288.1" cy="1401.4" r="6.4"/><circle cx="1314.4" cy="1399.4" r="6.4"/><circle cx="1306.6" cy="1402.7" r="6.4"/><circle cx="1301.0" cy="1414.3" r="6.4"/><circle cx="1310.5" cy="1418.2" r="6.4"/><circle cx="1293.5" cy="1423.3" r="6.4"/><circle cx="1290.7" cy="1434.7" r="6.4"/><circle cx="1284.5" cy="1438.3" r="6.4"/><circle cx="1295.6" cy="1444.7" r="6.4"/><circle cx="1308.7" cy="1441.4" r="6.4"/><circle cx="1302.8" cy="1470.2" r="6.4"/><circle cx="1286.5" cy="1476.1" r="6.4"/><circle cx="1312.3" cy="1480.3" r="6.4"/><circle cx="1291.9" cy="1489.3" r="6.4"/><circle cx="1360.2" cy="1403.5" r="6.4"/><circle cx="1380.6" cy="1406.3" r="6.4"/><circle cx="1400.7" cy="1380.0" r="6.4"/><circle cx="1395.0" cy="1387.8" r="6.4"/><circle cx="1404.5" cy="1388.3" r="6.4"/><circle cx="1443.2" cy="1373.6" r="6.4"/><circle cx="1445.3" cy="1384.7" r="6.4"/><circle cx="1433.9" cy="1389.3" r="6.4"/><circle cx="1423.1" cy="1418.4" r="6.4"/><circle cx="1459.4" cy="1442.4" r="6.4"/><circle cx="1417.7" cy="1466.1" r="6.4"/><circle cx="1436.2" cy="1467.6" r="6.4"/><circle cx="1467.2" cy="1440.1" r="6.4"/><circle cx="1476.7" cy="1364.6" r="6.4"/><circle cx="1523.1" cy="1365.1" r="6.4"/><circle cx="1541.1" cy="1366.6" r="6.4"/><circle cx="1565.1" cy="1363.3" r="6.4"/><circle cx="1573.3" cy="1364.1" r="6.4"/><circle cx="1646.7" cy="1364.6" r="6.4"/><circle cx="1668.9" cy="1367.2" r="6.4"/><circle cx="1495.5" cy="1374.9" r="6.4"/><circle cx="1474.9" cy="1384.4" r="6.4"/><circle cx="1517.1" cy="1376.9" r="6.4"/><circle cx="1550.4" cy="1376.2" r="6.4"/><circle cx="1528.5" cy="1389.1" r="6.4"/><circle cx="1539.3" cy="1390.9" r="6.4"/><circle cx="1549.1" cy="1397.3" r="6.4"/><circle cx="1545.0" cy="1410.4" r="6.4"/><circle cx="1472.8" cy="1415.6" r="6.4"/><circle cx="1469.2" cy="1421.3" r="6.4"/><circle cx="1478.7" cy="1421.8" r="6.4"/><circle cx="1644.7" cy="1379.3" r="6.4"/><circle cx="1670.7" cy="1387.0" r="6.4"/><circle cx="1663.5" cy="1390.3" r="6.4"/><circle cx="1685.4" cy="1392.1" r="6.4"/><circle cx="1672.5" cy="1429.8" r="6.4"/><circle cx="1727.4" cy="1375.4" r="6.4"/><circle cx="1733.8" cy="1374.9" r="6.4"/><circle cx="1742.8" cy="1373.1" r="6.4"/><circle cx="1757.3" cy="1375.4" r="6.4"/><circle cx="1736.9" cy="1396.3" r="6.4"/><circle cx="1762.9" cy="1395.8" r="6.4"/><circle cx="1729.4" cy="1419.2" r="6.4"/><circle cx="1740.8" cy="1416.6" r="6.4"/><circle cx="1755.2" cy="1415.6" r="6.4"/><circle cx="1718.4" cy="1426.9" r="6.4"/><circle cx="1817.0" cy="1369.0" r="6.4"/><circle cx="1820.1" cy="1376.9" r="6.4"/><circle cx="1829.9" cy="1368.4" r="6.4"/><circle cx="1833.0" cy="1376.2" r="6.4"/><circle cx="1840.8" cy="1369.2" r="6.4"/><circle cx="1850.5" cy="1369.2" r="6.4"/><circle cx="1845.9" cy="1383.1" r="6.4"/><circle cx="1836.6" cy="1411.0" r="6.4"/><circle cx="1546.8" cy="1476.1" r="6.4"/><circle cx="1759.1" cy="1468.9" r="6.4"/><circle cx="1739.0" cy="1488.2" r="6.4"/><circle cx="1735.1" cy="1557.3" r="6.4"/></g>
<g stroke="#000" stroke-width="2.4" stroke-linecap="butt"><path d="M258.0 1042.4v-18.7M258.0 1679.6v18.7"/><path d="M302.3 1042.4v-9.9M302.3 1679.6v9.9"/><path d="M346.7 1042.4v-9.9M346.7 1679.6v9.9"/><path d="M391.0 1042.4v-18.7M391.0 1679.6v18.7"/><path d="M435.3 1042.4v-9.9M435.3 1679.6v9.9"/><path d="M479.7 1042.4v-9.9M479.7 1679.6v9.9"/><path d="M524.0 1042.4v-18.7M524.0 1679.6v18.7"/><path d="M568.3 1042.4v-9.9M568.3 1679.6v9.9"/><path d="M612.7 1042.4v-9.9M612.7 1679.6v9.9"/><path d="M657.0 1042.4v-18.7M657.0 1679.6v18.7"/><path d="M701.3 1042.4v-9.9M701.3 1679.6v9.9"/><path d="M745.7 1042.4v-9.9M745.7 1679.6v9.9"/><path d="M790.0 1042.4v-18.7M790.0 1679.6v18.7"/><path d="M834.3 1042.4v-9.9M834.3 1679.6v9.9"/><path d="M878.7 1042.4v-9.9M878.7 1679.6v9.9"/><path d="M923.0 1042.4v-18.7M923.0 1679.6v18.7"/><path d="M967.3 1042.4v-9.9M967.3 1679.6v9.9"/><path d="M1011.7 1042.4v-9.9M1011.7 1679.6v9.9"/><path d="M1056.0 1042.4v-18.7M1056.0 1679.6v18.7"/><path d="M1100.3 1042.4v-9.9M1100.3 1679.6v9.9"/><path d="M1144.7 1042.4v-9.9M1144.7 1679.6v9.9"/><path d="M1189.0 1042.4v-18.7M1189.0 1679.6v18.7"/><path d="M1233.3 1042.4v-9.9M1233.3 1679.6v9.9"/><path d="M1277.7 1042.4v-9.9M1277.7 1679.6v9.9"/><path d="M1322.0 1042.4v-18.7M1322.0 1679.6v18.7"/><path d="M1366.3 1042.4v-9.9M1366.3 1679.6v9.9"/><path d="M1410.7 1042.4v-9.9M1410.7 1679.6v9.9"/><path d="M1455.0 1042.4v-18.7M1455.0 1679.6v18.7"/><path d="M1499.3 1042.4v-9.9M1499.3 1679.6v9.9"/><path d="M1543.7 1042.4v-9.9M1543.7 1679.6v9.9"/><path d="M1588.0 1042.4v-18.7M1588.0 1679.6v18.7"/><path d="M1632.3 1042.4v-9.9M1632.3 1679.6v9.9"/><path d="M1676.7 1042.4v-9.9M1676.7 1679.6v9.9"/><path d="M1721.0 1042.4v-18.7M1721.0 1679.6v18.7"/><path d="M1765.3 1042.4v-9.9M1765.3 1679.6v9.9"/><path d="M1809.7 1042.4v-9.9M1809.7 1679.6v9.9"/><path d="M1854.0 1042.4v-18.7M1854.0 1679.6v18.7"/><path d="M225.9 1086.6h-18.7M1883.7 1086.6h18.7"/><path d="M225.9 1178.0h-18.7M1883.7 1178.0h18.7"/><path d="M225.9 1269.4h-18.7M1883.7 1269.4h18.7"/><path d="M225.9 1360.8h-18.7M1883.7 1360.8h18.7"/><path d="M225.9 1452.2h-18.7M1883.7 1452.2h18.7"/><path d="M225.9 1543.6h-18.7M1883.7 1543.6h18.7"/><path d="M225.9 1635.0h-18.7M1883.7 1635.0h18.7"/></g>
<rect x="225.9" y="1042.4" width="1657.8" height="637.2" fill="none" stroke="#000" stroke-width="5.8"/>
<text class="b" font-size="42.4" text-anchor="middle" transform="translate(257.7 1746.2) scale(1 1.055)">0</text>
<text class="b" font-size="42.4" text-anchor="middle" transform="translate(390.7 1746.2) scale(1 1.055)">6</text>
<text class="b" font-size="42.4" text-anchor="middle" transform="translate(523.7 1746.2) scale(1 1.055)">12</text>
<text class="b" font-size="42.4" text-anchor="middle" transform="translate(656.7 1746.2) scale(1 1.055)">18</text>
<text class="b" font-size="42.4" text-anchor="middle" transform="translate(789.7 1746.2) scale(1 1.055)">24</text>
<text class="b" font-size="42.4" text-anchor="middle" transform="translate(922.7 1746.2) scale(1 1.055)">30</text>
<text class="b" font-size="42.4" text-anchor="middle" transform="translate(1055.7 1746.2) scale(1 1.055)">36</text>
<text class="b" font-size="42.4" text-anchor="middle" transform="translate(1188.7 1746.2) scale(1 1.055)">42</text>
<text class="b" font-size="42.4" text-anchor="middle" transform="translate(1321.7 1746.2) scale(1 1.055)">48</text>
<text class="b" font-size="42.4" text-anchor="middle" transform="translate(1454.7 1746.2) scale(1 1.055)">54</text>
<text class="b" font-size="42.4" text-anchor="middle" transform="translate(1587.7 1746.2) scale(1 1.055)">60</text>
<text class="b" font-size="42.4" text-anchor="middle" transform="translate(1720.7 1746.2) scale(1 1.055)">66</text>
<text class="b" font-size="42.4" text-anchor="middle" transform="translate(1853.7 1746.2) scale(1 1.055)">72</text>
<text class="b" font-size="42.4" text-anchor="end" transform="translate(190.6 1102.5) scale(1 1.055)">20</text>
<text class="b" font-size="42.4" text-anchor="end" transform="translate(190.6 1193.9) scale(1 1.055)">10</text>
<text class="b" font-size="42.4" text-anchor="end" transform="translate(190.6 1285.3) scale(1 1.055)">0</text>
<text class="b" font-size="42.4" text-anchor="end" transform="translate(190.6 1376.7) scale(1 1.055)"><tspan dy="4.1">−</tspan><tspan dy="-4.1">10</tspan></text>
<text class="b" font-size="42.4" text-anchor="end" transform="translate(190.6 1468.1) scale(1 1.055)"><tspan dy="4.1">−</tspan><tspan dy="-4.1">20</tspan></text>
<text class="b" font-size="42.4" text-anchor="end" transform="translate(190.6 1559.5) scale(1 1.055)"><tspan dy="4.1">−</tspan><tspan dy="-4.1">30</tspan></text>
<text class="b" font-size="42.4" text-anchor="end" transform="translate(190.6 1650.9) scale(1 1.055)"><tspan dy="4.1">−</tspan><tspan dy="-4.1">40</tspan></text>
<text font-size="42.3" text-anchor="middle" transform="translate(90.0 1361.0) rotate(-90) scale(1 1.055)">North (mm)</text>
<g fill="#0000ff"><circle cx="496.1" cy="1975.5" r="6.4"/><circle cx="486.5" cy="2009.5" r="6.4"/><circle cx="489.1" cy="2012.1" r="6.4"/><circle cx="499.7" cy="2027.0" r="6.4"/><circle cx="483.2" cy="2044.3" r="6.4"/><circle cx="485.0" cy="2060.0" r="6.4"/><circle cx="507.1" cy="2056.4" r="6.4"/><circle cx="597.6" cy="2065.9" r="6.4"/><circle cx="555.3" cy="2082.7" r="6.4"/><circle cx="650.7" cy="2082.9" r="6.4"/><circle cx="508.9" cy="2091.7" r="6.4"/><circle cx="520.0" cy="2091.4" r="6.4"/><circle cx="403.8" cy="2098.9" r="6.4"/><circle cx="376.0" cy="2106.4" r="6.4"/><circle cx="353.8" cy="2107.9" r="6.4"/><circle cx="357.7" cy="2112.3" r="6.4"/><circle cx="573.6" cy="2098.1" r="6.4"/><circle cx="581.1" cy="2107.9" r="6.4"/><circle cx="575.2" cy="2109.7" r="6.4"/><circle cx="560.5" cy="2112.3" r="6.4"/><circle cx="614.1" cy="2110.0" r="6.4"/><circle cx="490.4" cy="2112.3" r="6.4"/><circle cx="326.0" cy="2124.2" r="6.4"/><circle cx="335.3" cy="2130.3" r="6.4"/><circle cx="346.6" cy="2132.9" r="6.4"/><circle cx="352.3" cy="2131.1" r="6.4"/><circle cx="469.5" cy="2122.6" r="6.4"/><circle cx="477.5" cy="2124.7" r="6.4"/><circle cx="481.4" cy="2131.6" r="6.4"/><circle cx="494.0" cy="2134.2" r="6.4"/><circle cx="498.6" cy="2136.8" r="6.4"/><circle cx="514.6" cy="2129.8" r="6.4"/><circle cx="510.7" cy="2133.7" r="6.4"/><circle cx="544.0" cy="2127.0" r="6.4"/><circle cx="564.3" cy="2128.5" r="6.4"/><circle cx="599.6" cy="2129.3" r="6.4"/><circle cx="531.1" cy="2137.3" r="6.4"/><circle cx="405.6" cy="2133.7" r="6.4"/><circle cx="400.2" cy="2146.6" r="6.4"/><circle cx="372.4" cy="2145.3" r="6.4"/><circle cx="362.9" cy="2149.9" r="6.4"/><circle cx="276.3" cy="2147.3" r="6.4"/><circle cx="285.6" cy="2152.0" r="6.4"/><circle cx="279.9" cy="2164.6" r="6.4"/><circle cx="435.0" cy="2154.3" r="6.4"/><circle cx="453.5" cy="2149.7" r="6.4"/><circle cx="447.9" cy="2154.8" r="6.4"/><circle cx="440.7" cy="2167.2" r="6.4"/><circle cx="547.6" cy="2146.6" r="6.4"/><circle cx="550.9" cy="2156.1" r="6.4"/><circle cx="562.3" cy="2158.2" r="6.4"/><circle cx="566.4" cy="2164.6" r="6.4"/><circle cx="595.8" cy="2153.0" r="6.4"/><circle cx="590.1" cy="2156.4" r="6.4"/><circle cx="643.7" cy="2144.5" r="6.4"/><circle cx="512.5" cy="2160.5" r="6.4"/><circle cx="536.5" cy="2164.6" r="6.4"/><circle cx="545.8" cy="2170.5" r="6.4"/><circle cx="553.5" cy="2175.4" r="6.4"/><circle cx="586.5" cy="2171.8" r="6.4"/><circle cx="634.7" cy="2173.6" r="6.4"/><circle cx="472.1" cy="2165.4" r="6.4"/><circle cx="462.8" cy="2167.2" r="6.4"/><circle cx="457.4" cy="2174.4" r="6.4"/><circle cx="370.3" cy="2164.1" r="6.4"/><circle cx="368.5" cy="2170.3" r="6.4"/><circle cx="359.2" cy="2171.6" r="6.4"/><circle cx="327.8" cy="2170.3" r="6.4"/><circle cx="337.6" cy="2176.2" r="6.4"/><circle cx="786.2" cy="2026.0" r="6.4"/><circle cx="806.3" cy="2039.4" r="6.4"/><circle cx="830.5" cy="2050.0" r="6.4"/><circle cx="906.0" cy="2042.0" r="6.4"/><circle cx="883.8" cy="2052.5" r="6.4"/><circle cx="865.3" cy="2055.6" r="6.4"/><circle cx="784.4" cy="2060.8" r="6.4"/><circle cx="804.5" cy="2071.6" r="6.4"/><circle cx="791.6" cy="2076.2" r="6.4"/><circle cx="811.7" cy="2088.1" r="6.4"/><circle cx="817.6" cy="2089.9" r="6.4"/><circle cx="822.8" cy="2100.5" r="6.4"/><circle cx="878.2" cy="2090.7" r="6.4"/><circle cx="900.1" cy="2087.3" r="6.4"/><circle cx="901.9" cy="2093.8" r="6.4"/><circle cx="897.5" cy="2091.7" r="6.4"/><circle cx="876.4" cy="2103.5" r="6.4"/><circle cx="907.8" cy="2112.3" r="6.4"/><circle cx="747.3" cy="2114.1" r="6.4"/><circle cx="789.8" cy="2109.0" r="6.4"/><circle cx="809.9" cy="2116.4" r="6.4"/><circle cx="828.4" cy="2118.2" r="6.4"/><circle cx="837.7" cy="2123.4" r="6.4"/><circle cx="815.5" cy="2128.0" r="6.4"/><circle cx="882.0" cy="2129.3" r="6.4"/><circle cx="904.2" cy="2130.1" r="6.4"/><circle cx="657.1" cy="2130.3" r="6.4"/><circle cx="771.2" cy="2137.3" r="6.4"/><circle cx="787.7" cy="2135.8" r="6.4"/><circle cx="808.1" cy="2140.4" r="6.4"/><circle cx="821.5" cy="2138.3" r="6.4"/><circle cx="825.3" cy="2140.6" r="6.4"/><circle cx="846.7" cy="2142.7" r="6.4"/><circle cx="754.5" cy="2146.8" r="6.4"/><circle cx="793.4" cy="2149.7" r="6.4"/><circle cx="819.4" cy="2152.5" r="6.4"/><circle cx="813.7" cy="2159.5" r="6.4"/><circle cx="845.2" cy="2154.3" r="6.4"/><circle cx="699.3" cy="2152.5" r="6.4"/><circle cx="660.4" cy="2155.6" r="6.4"/><circle cx="666.1" cy="2160.0" r="6.4"/><circle cx="977.9" cy="2143.0" r="6.4"/><circle cx="1022.4" cy="2140.9" r="6.4"/><circle cx="1031.7" cy="2143.2" r="6.4"/><circle cx="1016.8" cy="2151.2" r="6.4"/><circle cx="1018.6" cy="2158.7" r="6.4"/><circle cx="1054.7" cy="2156.9" r="6.4"/><circle cx="1044.3" cy="2165.4" r="6.4"/><circle cx="935.4" cy="2166.7" r="6.4"/><circle cx="887.7" cy="2160.7" r="6.4"/><circle cx="891.6" cy="2165.9" r="6.4"/><circle cx="889.0" cy="2171.0" r="6.4"/><circle cx="872.7" cy="2171.8" r="6.4"/><circle cx="839.5" cy="2172.3" r="6.4"/><circle cx="664.3" cy="2174.4" r="6.4"/><circle cx="682.3" cy="2173.6" r="6.4"/><circle cx="677.2" cy="2177.0" r="6.4"/><circle cx="1054.1" cy="2175.4" r="6.4"/><circle cx="1317.7" cy="1870.4" r="6.4"/><circle cx="1319.5" cy="1971.4" r="6.4"/><circle cx="1314.1" cy="2048.7" r="6.4"/><circle cx="1120.4" cy="2060.0" r="6.4"/><circle cx="1230.9" cy="2073.4" r="6.4"/><circle cx="1289.9" cy="2073.4" r="6.4"/><circle cx="1297.6" cy="2075.2" r="6.4"/><circle cx="1085.1" cy="2082.7" r="6.4"/><circle cx="1066.8" cy="2094.0" r="6.4"/><circle cx="1336.3" cy="2082.9" r="6.4"/><circle cx="1367.7" cy="2081.6" r="6.4"/><circle cx="1360.5" cy="2092.2" r="6.4"/><circle cx="1315.9" cy="2091.9" r="6.4"/><circle cx="1341.7" cy="2100.5" r="6.4"/><circle cx="1421.3" cy="2094.0" r="6.4"/><circle cx="1183.0" cy="2097.6" r="6.4"/><circle cx="1181.2" cy="2106.1" r="6.4"/><circle cx="1229.1" cy="2105.3" r="6.4"/><circle cx="1244.0" cy="2113.8" r="6.4"/><circle cx="1238.4" cy="2118.7" r="6.4"/><circle cx="1245.6" cy="2126.7" r="6.4"/><circle cx="1292.5" cy="2109.7" r="6.4"/><circle cx="1299.7" cy="2109.0" r="6.4"/><circle cx="1321.6" cy="2108.4" r="6.4"/><circle cx="1340.1" cy="2114.6" r="6.4"/><circle cx="1061.3" cy="2110.0" r="6.4"/><circle cx="1074.0" cy="2111.3" r="6.4"/><circle cx="1070.4" cy="2114.9" r="6.4"/><circle cx="1086.9" cy="2109.2" r="6.4"/><circle cx="1111.1" cy="2117.2" r="6.4"/><circle cx="1127.6" cy="2114.1" r="6.4"/><circle cx="1190.4" cy="2119.3" r="6.4"/><circle cx="1212.6" cy="2127.0" r="6.4"/><circle cx="1179.6" cy="2133.2" r="6.4"/><circle cx="1188.6" cy="2136.3" r="6.4"/><circle cx="1175.5" cy="2144.3" r="6.4"/><circle cx="1076.0" cy="2137.6" r="6.4"/><circle cx="1142.3" cy="2144.3" r="6.4"/><circle cx="1100.0" cy="2145.8" r="6.4"/><circle cx="1310.5" cy="2129.8" r="6.4"/><circle cx="1330.6" cy="2122.1" r="6.4"/><circle cx="1327.2" cy="2132.4" r="6.4"/><circle cx="1337.6" cy="2129.8" r="6.4"/><circle cx="1345.3" cy="2128.5" r="6.4"/><circle cx="1343.5" cy="2140.9" r="6.4"/><circle cx="1362.0" cy="2133.2" r="6.4"/><circle cx="1358.2" cy="2140.9" r="6.4"/><circle cx="1371.3" cy="2147.1" r="6.4"/><circle cx="1334.5" cy="2151.7" r="6.4"/><circle cx="1349.1" cy="2154.8" r="6.4"/><circle cx="1353.0" cy="2154.8" r="6.4"/><circle cx="1404.5" cy="2117.7" r="6.4"/><circle cx="1399.4" cy="2128.0" r="6.4"/><circle cx="1417.9" cy="2116.4" r="6.4"/><circle cx="1419.2" cy="2126.0" r="6.4"/><circle cx="1430.6" cy="2128.0" r="6.4"/><circle cx="1437.8" cy="2143.5" r="6.4"/><circle cx="1192.0" cy="2151.2" r="6.4"/><circle cx="1198.4" cy="2152.5" r="6.4"/><circle cx="1207.4" cy="2150.4" r="6.4"/><circle cx="1209.5" cy="2153.0" r="6.4"/><circle cx="1249.4" cy="2154.3" r="6.4"/><circle cx="1240.2" cy="2157.7" r="6.4"/><circle cx="1284.5" cy="2149.4" r="6.4"/><circle cx="1271.9" cy="2156.1" r="6.4"/><circle cx="1277.3" cy="2158.9" r="6.4"/><circle cx="1304.1" cy="2154.8" r="6.4"/><circle cx="1300.2" cy="2156.4" r="6.4"/><circle cx="1295.0" cy="2158.9" r="6.4"/><circle cx="1109.0" cy="2154.3" r="6.4"/><circle cx="1113.4" cy="2159.5" r="6.4"/><circle cx="1121.1" cy="2164.6" r="6.4"/><circle cx="1116.7" cy="2171.8" r="6.4"/><circle cx="1135.3" cy="2162.8" r="6.4"/><circle cx="1092.3" cy="2156.9" r="6.4"/><circle cx="1083.8" cy="2159.5" r="6.4"/><circle cx="1088.9" cy="2161.5" r="6.4"/><circle cx="1068.8" cy="2163.8" r="6.4"/><circle cx="1101.8" cy="2170.5" r="6.4"/><circle cx="1203.6" cy="2166.4" r="6.4"/><circle cx="1199.7" cy="2170.3" r="6.4"/><circle cx="1195.8" cy="2171.6" r="6.4"/><circle cx="1264.1" cy="2168.0" r="6.4"/><circle cx="1323.4" cy="2171.3" r="6.4"/><circle cx="1414.1" cy="2162.8" r="6.4"/><circle cx="1439.3" cy="2159.5" r="6.4"/><circle cx="1445.8" cy="2159.5" r="6.4"/><circle cx="1441.9" cy="2167.2" r="6.4"/><circle cx="1426.4" cy="2172.3" r="6.4"/><circle cx="1405.8" cy="2173.6" r="6.4"/><circle cx="1412.3" cy="2173.6" r="6.4"/><circle cx="1458.7" cy="2167.2" r="6.4"/><circle cx="1063.2" cy="2176.2" r="6.4"/><circle cx="1849.8" cy="1905.7" r="6.4"/><circle cx="1834.8" cy="2019.0" r="6.4"/><circle cx="1840.5" cy="2025.0" r="6.4"/><circle cx="1548.6" cy="2045.3" r="6.4"/><circle cx="1574.6" cy="2062.1" r="6.4"/><circle cx="1545.0" cy="2075.2" r="6.4"/><circle cx="1827.4" cy="2062.1" r="6.4"/><circle cx="1851.6" cy="2086.3" r="6.4"/><circle cx="1787.2" cy="2108.2" r="6.4"/><circle cx="1833.3" cy="2110.5" r="6.4"/><circle cx="1562.0" cy="2118.0" r="6.4"/><circle cx="1591.3" cy="2120.3" r="6.4"/><circle cx="1650.3" cy="2118.2" r="6.4"/><circle cx="1655.8" cy="2126.0" r="6.4"/><circle cx="1465.3" cy="2131.1" r="6.4"/><circle cx="1580.0" cy="2130.3" r="6.4"/><circle cx="1595.2" cy="2138.3" r="6.4"/><circle cx="1622.5" cy="2138.1" r="6.4"/><circle cx="1528.5" cy="2139.9" r="6.4"/><circle cx="1547.0" cy="2144.5" r="6.4"/><circle cx="1541.4" cy="2151.2" r="6.4"/><circle cx="1641.1" cy="2146.1" r="6.4"/><circle cx="1609.6" cy="2147.9" r="6.4"/><circle cx="1605.8" cy="2151.0" r="6.4"/><circle cx="1608.3" cy="2158.2" r="6.4"/><circle cx="1652.1" cy="2156.9" r="6.4"/><circle cx="1796.2" cy="2131.1" r="6.4"/><circle cx="1842.6" cy="2131.9" r="6.4"/><circle cx="1846.2" cy="2145.0" r="6.4"/><circle cx="1819.9" cy="2149.4" r="6.4"/><circle cx="1831.2" cy="2149.4" r="6.4"/><circle cx="1829.7" cy="2165.9" r="6.4"/><circle cx="1513.5" cy="2156.9" r="6.4"/><circle cx="1505.8" cy="2160.7" r="6.4"/><circle cx="1504.0" cy="2166.4" r="6.4"/><circle cx="1484.4" cy="2167.2" r="6.4"/><circle cx="1543.2" cy="2167.2" r="6.4"/><circle cx="1596.0" cy="2165.9" r="6.4"/><circle cx="1602.4" cy="2164.6" r="6.4"/><circle cx="1626.1" cy="2167.4" r="6.4"/><circle cx="1637.2" cy="2165.4" r="6.4"/><circle cx="1646.2" cy="2166.4" r="6.4"/><circle cx="1668.9" cy="2170.3" r="6.4"/><circle cx="1674.6" cy="2174.9" r="6.4"/><circle cx="1757.0" cy="2171.8" r="6.4"/><circle cx="1761.7" cy="2171.6" r="6.4"/><circle cx="1523.8" cy="2172.3" r="6.4"/><circle cx="1533.6" cy="2177.0" r="6.4"/><circle cx="1583.6" cy="2174.9" r="6.4"/><circle cx="1615.3" cy="2174.9" r="6.4"/><circle cx="278.3" cy="2179.3" r="6.4"/><circle cx="287.6" cy="2189.9" r="6.4"/><circle cx="322.1" cy="2181.9" r="6.4"/><circle cx="316.5" cy="2191.4" r="6.4"/><circle cx="320.9" cy="2194.0" r="6.4"/><circle cx="317.0" cy="2203.8" r="6.4"/><circle cx="344.6" cy="2186.2" r="6.4"/><circle cx="361.3" cy="2191.4" r="6.4"/><circle cx="385.3" cy="2189.3" r="6.4"/><circle cx="401.8" cy="2187.3" r="6.4"/><circle cx="436.8" cy="2185.7" r="6.4"/><circle cx="479.3" cy="2183.2" r="6.4"/><circle cx="492.2" cy="2187.5" r="6.4"/><circle cx="525.2" cy="2182.6" r="6.4"/><circle cx="523.1" cy="2190.1" r="6.4"/><circle cx="559.2" cy="2190.9" r="6.4"/><circle cx="568.2" cy="2195.5" r="6.4"/><circle cx="592.7" cy="2185.0" r="6.4"/><circle cx="601.2" cy="2187.8" r="6.4"/><circle cx="584.4" cy="2193.5" r="6.4"/><circle cx="615.9" cy="2196.8" r="6.4"/><circle cx="648.1" cy="2181.1" r="6.4"/><circle cx="641.1" cy="2192.2" r="6.4"/><circle cx="651.2" cy="2190.4" r="6.4"/><circle cx="374.4" cy="2194.7" r="6.4"/><circle cx="378.8" cy="2201.2" r="6.4"/><circle cx="385.3" cy="2204.5" r="6.4"/><circle cx="392.5" cy="2204.5" r="6.4"/><circle cx="398.7" cy="2202.0" r="6.4"/><circle cx="406.7" cy="2212.8" r="6.4"/><circle cx="411.0" cy="2217.2" r="6.4"/><circle cx="281.7" cy="2204.5" r="6.4"/><circle cx="274.5" cy="2210.7" r="6.4"/><circle cx="342.8" cy="2203.8" r="6.4"/><circle cx="340.7" cy="2214.8" r="6.4"/><circle cx="329.9" cy="2216.6" r="6.4"/><circle cx="465.9" cy="2200.7" r="6.4"/><circle cx="459.2" cy="2203.2" r="6.4"/><circle cx="473.6" cy="2205.6" r="6.4"/><circle cx="518.0" cy="2202.5" r="6.4"/><circle cx="540.4" cy="2200.4" r="6.4"/><circle cx="501.5" cy="2213.3" r="6.4"/><circle cx="529.6" cy="2214.1" r="6.4"/><circle cx="606.8" cy="2205.1" r="6.4"/><circle cx="594.0" cy="2212.0" r="6.4"/><circle cx="605.6" cy="2217.9" r="6.4"/><circle cx="603.0" cy="2225.2" r="6.4"/><circle cx="612.5" cy="2224.9" r="6.4"/><circle cx="626.2" cy="2226.2" r="6.4"/><circle cx="638.3" cy="2214.1" r="6.4"/><circle cx="646.3" cy="2213.3" r="6.4"/><circle cx="283.5" cy="2227.7" r="6.4"/><circle cx="304.1" cy="2229.5" r="6.4"/><circle cx="318.8" cy="2225.2" r="6.4"/><circle cx="324.7" cy="2230.8" r="6.4"/><circle cx="331.9" cy="2237.8" r="6.4"/><circle cx="338.9" cy="2228.8" r="6.4"/><circle cx="355.6" cy="2227.7" r="6.4"/><circle cx="390.7" cy="2226.2" r="6.4"/><circle cx="461.0" cy="2227.5" r="6.4"/><circle cx="541.9" cy="2227.0" r="6.4"/><circle cx="521.8" cy="2232.6" r="6.4"/><circle cx="556.9" cy="2240.1" r="6.4"/><circle cx="532.9" cy="2242.9" r="6.4"/><circle cx="538.6" cy="2253.2" r="6.4"/><circle cx="579.0" cy="2246.3" r="6.4"/><circle cx="570.8" cy="2254.8" r="6.4"/><circle cx="503.3" cy="2253.0" r="6.4"/><circle cx="366.7" cy="2240.1" r="6.4"/><circle cx="387.1" cy="2238.5" r="6.4"/><circle cx="380.1" cy="2245.5" r="6.4"/><circle cx="381.4" cy="2254.3" r="6.4"/><circle cx="395.1" cy="2258.4" r="6.4"/><circle cx="396.3" cy="2261.0" r="6.4"/><circle cx="333.2" cy="2251.9" r="6.4"/><circle cx="295.1" cy="2241.1" r="6.4"/><circle cx="291.2" cy="2247.1" r="6.4"/><circle cx="297.7" cy="2252.7" r="6.4"/><circle cx="306.2" cy="2254.5" r="6.4"/><circle cx="272.7" cy="2247.6" r="6.4"/><circle cx="257.7" cy="2257.1" r="6.4"/><circle cx="270.6" cy="2261.7" r="6.4"/><circle cx="261.6" cy="2265.6" r="6.4"/><circle cx="264.9" cy="2272.6" r="6.4"/><circle cx="293.8" cy="2263.5" r="6.4"/><circle cx="297.7" cy="2266.4" r="6.4"/><circle cx="308.0" cy="2267.7" r="6.4"/><circle cx="313.1" cy="2275.9" r="6.4"/><circle cx="289.2" cy="2275.9" r="6.4"/><circle cx="300.5" cy="2279.8" r="6.4"/><circle cx="302.3" cy="2290.9" r="6.4"/><circle cx="309.8" cy="2296.5" r="6.4"/><circle cx="311.3" cy="2303.7" r="6.4"/><circle cx="263.7" cy="2306.8" r="6.4"/><circle cx="364.9" cy="2314.3" r="6.4"/><circle cx="409.2" cy="2313.8" r="6.4"/><circle cx="412.8" cy="2282.9" r="6.4"/><circle cx="415.7" cy="2291.4" r="6.4"/><circle cx="433.2" cy="2262.5" r="6.4"/><circle cx="431.6" cy="2272.8" r="6.4"/><circle cx="439.4" cy="2276.4" r="6.4"/><circle cx="442.5" cy="2286.2" r="6.4"/><circle cx="455.3" cy="2268.2" r="6.4"/><circle cx="475.4" cy="2268.7" r="6.4"/><circle cx="464.4" cy="2288.0" r="6.4"/><circle cx="446.3" cy="2299.6" r="6.4"/><circle cx="451.7" cy="2307.6" r="6.4"/><circle cx="444.3" cy="2324.3" r="6.4"/><circle cx="429.6" cy="2337.0" r="6.4"/><circle cx="623.6" cy="2240.6" r="6.4"/><circle cx="631.3" cy="2250.9" r="6.4"/><circle cx="619.0" cy="2250.9" r="6.4"/><circle cx="621.5" cy="2254.5" r="6.4"/><circle cx="610.7" cy="2259.9" r="6.4"/><circle cx="619.7" cy="2267.4" r="6.4"/><circle cx="608.7" cy="2276.7" r="6.4"/><circle cx="632.6" cy="2287.0" r="6.4"/><circle cx="549.7" cy="2263.0" r="6.4"/><circle cx="534.7" cy="2266.9" r="6.4"/><circle cx="527.5" cy="2270.2" r="6.4"/><circle cx="516.7" cy="2271.3" r="6.4"/><circle cx="588.8" cy="2280.3" r="6.4"/><circle cx="582.4" cy="2283.6" r="6.4"/><circle cx="577.2" cy="2288.8" r="6.4"/><circle cx="636.5" cy="2313.8" r="6.4"/><circle cx="629.0" cy="2325.4" r="6.4"/><circle cx="505.3" cy="2344.4" r="6.4"/><circle cx="267.3" cy="2344.2" r="6.4"/><circle cx="268.8" cy="2349.3" r="6.4"/><circle cx="350.2" cy="2365.1" r="6.4"/><circle cx="427.8" cy="2368.9" r="6.4"/><circle cx="426.0" cy="2399.8" r="6.4"/><circle cx="420.1" cy="2427.4" r="6.4"/><circle cx="424.4" cy="2428.4" r="6.4"/><circle cx="418.2" cy="2452.4" r="6.4"/><circle cx="422.1" cy="2454.5" r="6.4"/><circle cx="688.3" cy="2181.9" r="6.4"/><circle cx="673.3" cy="2192.7" r="6.4"/><circle cx="671.5" cy="2205.8" r="6.4"/><circle cx="661.2" cy="2211.0" r="6.4"/><circle cx="657.9" cy="2222.3" r="6.4"/><circle cx="773.3" cy="2181.1" r="6.4"/><circle cx="802.7" cy="2180.1" r="6.4"/><circle cx="735.9" cy="2187.3" r="6.4"/><circle cx="933.8" cy="2182.4" r="6.4"/><circle cx="1011.6" cy="2180.1" r="6.4"/><circle cx="1013.9" cy="2187.8" r="6.4"/><circle cx="1015.2" cy="2195.5" r="6.4"/><circle cx="1043.1" cy="2184.4" r="6.4"/><circle cx="701.2" cy="2199.4" r="6.4"/><circle cx="718.9" cy="2203.0" r="6.4"/><circle cx="715.8" cy="2208.9" r="6.4"/><circle cx="732.1" cy="2208.9" r="6.4"/><circle cx="728.7" cy="2216.6" r="6.4"/><circle cx="724.9" cy="2223.9" r="6.4"/><circle cx="714.5" cy="2227.5" r="6.4"/><circle cx="721.5" cy="2231.3" r="6.4"/><circle cx="751.1" cy="2196.6" r="6.4"/><circle cx="760.4" cy="2194.5" r="6.4"/><circle cx="756.5" cy="2213.6" r="6.4"/><circle cx="761.7" cy="2217.9" r="6.4"/><circle cx="774.6" cy="2216.6" r="6.4"/><circle cx="779.0" cy="2219.7" r="6.4"/><circle cx="797.0" cy="2203.8" r="6.4"/><circle cx="800.3" cy="2211.0" r="6.4"/><circle cx="795.2" cy="2228.8" r="6.4"/><circle cx="780.2" cy="2237.8" r="6.4"/><circle cx="749.3" cy="2229.5" r="6.4"/><circle cx="758.3" cy="2229.5" r="6.4"/><circle cx="745.5" cy="2236.7" r="6.4"/><circle cx="738.5" cy="2241.6" r="6.4"/><circle cx="741.6" cy="2251.4" r="6.4"/><circle cx="743.4" cy="2260.4" r="6.4"/><circle cx="752.4" cy="2262.3" r="6.4"/><circle cx="706.8" cy="2242.4" r="6.4"/><circle cx="710.2" cy="2250.7" r="6.4"/><circle cx="769.4" cy="2254.0" r="6.4"/><circle cx="777.2" cy="2257.4" r="6.4"/><circle cx="764.3" cy="2264.8" r="6.4"/><circle cx="765.6" cy="2274.6" r="6.4"/><circle cx="782.1" cy="2269.5" r="6.4"/><circle cx="798.8" cy="2262.5" r="6.4"/><circle cx="677.2" cy="2255.3" r="6.4"/><circle cx="674.6" cy="2261.7" r="6.4"/><circle cx="681.1" cy="2264.3" r="6.4"/><circle cx="697.3" cy="2265.6" r="6.4"/><circle cx="708.9" cy="2268.2" r="6.4"/><circle cx="712.7" cy="2271.3" r="6.4"/><circle cx="733.9" cy="2269.0" r="6.4"/><circle cx="730.3" cy="2277.2" r="6.4"/><circle cx="703.0" cy="2281.1" r="6.4"/><circle cx="717.6" cy="2284.9" r="6.4"/><circle cx="739.8" cy="2291.9" r="6.4"/><circle cx="690.1" cy="2296.5" r="6.4"/><circle cx="684.4" cy="2300.4" r="6.4"/><circle cx="686.2" cy="2304.8" r="6.4"/><circle cx="767.6" cy="2304.2" r="6.4"/><circle cx="704.5" cy="2336.7" r="6.4"/><circle cx="693.7" cy="2346.2" r="6.4"/><circle cx="725.1" cy="2350.1" r="6.4"/><circle cx="691.6" cy="2385.7" r="6.4"/><circle cx="695.5" cy="2398.3" r="6.4"/><circle cx="841.3" cy="2196.8" r="6.4"/><circle cx="849.8" cy="2185.2" r="6.4"/><circle cx="857.5" cy="2190.9" r="6.4"/><circle cx="862.7" cy="2187.8" r="6.4"/><circle cx="873.0" cy="2188.3" r="6.4"/><circle cx="880.2" cy="2192.9" r="6.4"/><circle cx="856.3" cy="2217.2" r="6.4"/><circle cx="860.1" cy="2217.4" r="6.4"/><circle cx="850.6" cy="2227.0" r="6.4"/><circle cx="885.4" cy="2210.2" r="6.4"/><circle cx="893.6" cy="2216.6" r="6.4"/><circle cx="897.0" cy="2221.3" r="6.4"/><circle cx="854.2" cy="2249.4" r="6.4"/><circle cx="866.6" cy="2251.9" r="6.4"/><circle cx="869.1" cy="2260.4" r="6.4"/><circle cx="826.6" cy="2250.7" r="6.4"/><circle cx="831.8" cy="2254.0" r="6.4"/><circle cx="836.2" cy="2257.4" r="6.4"/><circle cx="833.6" cy="2269.5" r="6.4"/><circle cx="843.4" cy="2271.3" r="6.4"/><circle cx="917.1" cy="2187.5" r="6.4"/><circle cx="944.6" cy="2199.1" r="6.4"/><circle cx="914.7" cy="2206.3" r="6.4"/><circle cx="919.4" cy="2205.1" r="6.4"/><circle cx="922.5" cy="2227.0" r="6.4"/><circle cx="950.3" cy="2220.8" r="6.4"/><circle cx="963.2" cy="2226.2" r="6.4"/><circle cx="943.1" cy="2233.9" r="6.4"/><circle cx="961.1" cy="2243.4" r="6.4"/><circle cx="931.8" cy="2245.0" r="6.4"/><circle cx="928.4" cy="2251.4" r="6.4"/><circle cx="920.7" cy="2257.9" r="6.4"/><circle cx="911.1" cy="2251.4" r="6.4"/><circle cx="909.1" cy="2256.6" r="6.4"/><circle cx="940.5" cy="2258.4" r="6.4"/><circle cx="936.9" cy="2266.4" r="6.4"/><circle cx="983.0" cy="2215.4" r="6.4"/><circle cx="995.4" cy="2213.6" r="6.4"/><circle cx="987.7" cy="2223.1" r="6.4"/><circle cx="992.8" cy="2227.0" r="6.4"/><circle cx="991.0" cy="2232.1" r="6.4"/><circle cx="979.9" cy="2243.7" r="6.4"/><circle cx="989.5" cy="2244.2" r="6.4"/><circle cx="1002.3" cy="2251.9" r="6.4"/><circle cx="1000.3" cy="2263.0" r="6.4"/><circle cx="1009.6" cy="2206.3" r="6.4"/><circle cx="998.5" cy="2190.4" r="6.4"/><circle cx="1048.2" cy="2215.4" r="6.4"/><circle cx="1041.0" cy="2234.7" r="6.4"/><circle cx="1024.2" cy="2238.0" r="6.4"/><circle cx="1019.9" cy="2240.6" r="6.4"/><circle cx="1055.9" cy="2234.7" r="6.4"/><circle cx="1036.9" cy="2259.7" r="6.4"/><circle cx="1050.0" cy="2261.0" r="6.4"/><circle cx="1046.4" cy="2276.4" r="6.4"/><circle cx="1029.7" cy="2280.5" r="6.4"/><circle cx="1026.1" cy="2299.9" r="6.4"/><circle cx="1003.9" cy="2298.3" r="6.4"/><circle cx="996.4" cy="2281.6" r="6.4"/><circle cx="985.3" cy="2289.8" r="6.4"/><circle cx="967.0" cy="2267.4" r="6.4"/><circle cx="964.5" cy="2275.4" r="6.4"/><circle cx="976.1" cy="2278.5" r="6.4"/><circle cx="969.6" cy="2283.6" r="6.4"/><circle cx="972.7" cy="2293.4" r="6.4"/><circle cx="952.4" cy="2303.5" r="6.4"/><circle cx="946.4" cy="2305.5" r="6.4"/><circle cx="894.6" cy="2302.4" r="6.4"/><circle cx="1038.9" cy="2320.5" r="6.4"/><circle cx="1027.9" cy="2337.5" r="6.4"/><circle cx="913.2" cy="2331.3" r="6.4"/><circle cx="924.0" cy="2333.4" r="6.4"/><circle cx="926.6" cy="2337.0" r="6.4"/><circle cx="939.2" cy="2332.1" r="6.4"/><circle cx="948.5" cy="2333.1" r="6.4"/><circle cx="953.9" cy="2344.2" r="6.4"/><circle cx="974.3" cy="2340.3" r="6.4"/><circle cx="982.0" cy="2339.8" r="6.4"/><circle cx="1005.7" cy="2356.3" r="6.4"/><circle cx="1007.8" cy="2361.7" r="6.4"/><circle cx="956.0" cy="2382.6" r="6.4"/><circle cx="1035.3" cy="2410.1" r="6.4"/><circle cx="959.6" cy="2428.4" r="6.4"/><circle cx="1033.5" cy="2438.5" r="6.4"/><circle cx="957.8" cy="2483.1" r="6.4"/><circle cx="1065.7" cy="2194.7" r="6.4"/><circle cx="1072.2" cy="2197.3" r="6.4"/><circle cx="1078.1" cy="2202.5" r="6.4"/><circle cx="1091.0" cy="2189.6" r="6.4"/><circle cx="1095.4" cy="2197.3" r="6.4"/><circle cx="1103.9" cy="2205.8" r="6.4"/><circle cx="1097.9" cy="2214.8" r="6.4"/><circle cx="1106.2" cy="2189.1" r="6.4"/><circle cx="1124.2" cy="2185.7" r="6.4"/><circle cx="1126.3" cy="2199.1" r="6.4"/><circle cx="1144.3" cy="2189.6" r="6.4"/><circle cx="1140.4" cy="2198.6" r="6.4"/><circle cx="1131.4" cy="2210.2" r="6.4"/><circle cx="1129.6" cy="2220.5" r="6.4"/><circle cx="1134.0" cy="2221.0" r="6.4"/><circle cx="1157.2" cy="2204.5" r="6.4"/><circle cx="1164.9" cy="2203.0" r="6.4"/><circle cx="1170.9" cy="2207.6" r="6.4"/><circle cx="1163.1" cy="2217.4" r="6.4"/><circle cx="1172.7" cy="2218.5" r="6.4"/><circle cx="1150.0" cy="2220.5" r="6.4"/><circle cx="1186.3" cy="2217.4" r="6.4"/><circle cx="1145.6" cy="2233.9" r="6.4"/><circle cx="1153.8" cy="2233.4" r="6.4"/><circle cx="1159.3" cy="2237.8" r="6.4"/><circle cx="1168.3" cy="2231.3" r="6.4"/><circle cx="1177.3" cy="2238.5" r="6.4"/><circle cx="1185.0" cy="2234.7" r="6.4"/><circle cx="1080.7" cy="2229.5" r="6.4"/><circle cx="1112.9" cy="2233.7" r="6.4"/><circle cx="1059.3" cy="2254.0" r="6.4"/><circle cx="1137.1" cy="2247.6" r="6.4"/><circle cx="1147.9" cy="2266.9" r="6.4"/><circle cx="1138.6" cy="2278.0" r="6.4"/><circle cx="1155.4" cy="2291.1" r="6.4"/><circle cx="1151.5" cy="2306.1" r="6.4"/><circle cx="1118.5" cy="2307.3" r="6.4"/><circle cx="1166.5" cy="2335.4" r="6.4"/><circle cx="1201.0" cy="2192.2" r="6.4"/><circle cx="1194.0" cy="2199.1" r="6.4"/><circle cx="1214.4" cy="2210.7" r="6.4"/><circle cx="1225.5" cy="2224.9" r="6.4"/><circle cx="1205.1" cy="2237.3" r="6.4"/><circle cx="1216.2" cy="2244.5" r="6.4"/><circle cx="1221.1" cy="2256.1" r="6.4"/><circle cx="1219.0" cy="2258.6" r="6.4"/><circle cx="1210.8" cy="2270.2" r="6.4"/><circle cx="1223.7" cy="2270.8" r="6.4"/><circle cx="1242.0" cy="2248.6" r="6.4"/><circle cx="1220.3" cy="2184.4" r="6.4"/><circle cx="1227.3" cy="2179.3" r="6.4"/><circle cx="1235.3" cy="2184.4" r="6.4"/><circle cx="1233.2" cy="2199.1" r="6.4"/><circle cx="1237.1" cy="2204.5" r="6.4"/><circle cx="1247.9" cy="2206.9" r="6.4"/><circle cx="1255.6" cy="2211.5" r="6.4"/><circle cx="1266.2" cy="2179.3" r="6.4"/><circle cx="1257.7" cy="2187.8" r="6.4"/><circle cx="1258.5" cy="2195.5" r="6.4"/><circle cx="1268.0" cy="2192.2" r="6.4"/><circle cx="1276.5" cy="2196.0" r="6.4"/><circle cx="1288.1" cy="2185.0" r="6.4"/><circle cx="1293.8" cy="2195.5" r="6.4"/><circle cx="1286.0" cy="2202.5" r="6.4"/><circle cx="1282.7" cy="2208.9" r="6.4"/><circle cx="1273.7" cy="2222.6" r="6.4"/><circle cx="1281.1" cy="2231.6" r="6.4"/><circle cx="1269.8" cy="2252.7" r="6.4"/><circle cx="1279.1" cy="2261.0" r="6.4"/><circle cx="1253.0" cy="2278.5" r="6.4"/><circle cx="1260.8" cy="2284.4" r="6.4"/><circle cx="1251.5" cy="2298.8" r="6.4"/><circle cx="1306.6" cy="2217.9" r="6.4"/><circle cx="1308.4" cy="2223.9" r="6.4"/><circle cx="1302.8" cy="2257.4" r="6.4"/><circle cx="1312.3" cy="2285.7" r="6.4"/><circle cx="1325.2" cy="2233.1" r="6.4"/><circle cx="1329.1" cy="2260.2" r="6.4"/><circle cx="1332.7" cy="2190.9" r="6.4"/><circle cx="1347.1" cy="2188.8" r="6.4"/><circle cx="1356.9" cy="2197.3" r="6.4"/><circle cx="1354.3" cy="2208.4" r="6.4"/><circle cx="1351.0" cy="2219.2" r="6.4"/><circle cx="1365.4" cy="2216.6" r="6.4"/><circle cx="1369.8" cy="2220.5" r="6.4"/><circle cx="1377.5" cy="2214.1" r="6.4"/><circle cx="1386.0" cy="2219.2" r="6.4"/><circle cx="1373.1" cy="2241.9" r="6.4"/><circle cx="1364.3" cy="2264.3" r="6.4"/><circle cx="1375.2" cy="2275.1" r="6.4"/><circle cx="1378.8" cy="2296.3" r="6.4"/><circle cx="1382.6" cy="2319.5" r="6.4"/><circle cx="1393.5" cy="2268.2" r="6.4"/><circle cx="1408.2" cy="2251.7" r="6.4"/><circle cx="1380.1" cy="2185.2" r="6.4"/><circle cx="1388.3" cy="2181.1" r="6.4"/><circle cx="1386.5" cy="2188.8" r="6.4"/><circle cx="1392.4" cy="2198.6" r="6.4"/><circle cx="1396.0" cy="2203.2" r="6.4"/><circle cx="1403.3" cy="2212.8" r="6.4"/><circle cx="1400.2" cy="2220.5" r="6.4"/><circle cx="1397.3" cy="2229.0" r="6.4"/><circle cx="1409.7" cy="2203.2" r="6.4"/><circle cx="1415.6" cy="2209.4" r="6.4"/><circle cx="1424.9" cy="2227.0" r="6.4"/><circle cx="1422.6" cy="2190.4" r="6.4"/><circle cx="1429.0" cy="2184.4" r="6.4"/><circle cx="1432.9" cy="2189.6" r="6.4"/><circle cx="1435.5" cy="2180.1" r="6.4"/><circle cx="1448.3" cy="2179.3" r="6.4"/><circle cx="1449.1" cy="2185.7" r="6.4"/><circle cx="1459.4" cy="2211.5" r="6.4"/><circle cx="1443.2" cy="2239.1" r="6.4"/><circle cx="1456.1" cy="2241.1" r="6.4"/><circle cx="1452.2" cy="2252.7" r="6.4"/><circle cx="1452.7" cy="2258.4" r="6.4"/><circle cx="1474.9" cy="2202.0" r="6.4"/><circle cx="1465.9" cy="2207.6" r="6.4"/><circle cx="1480.6" cy="2219.2" r="6.4"/><circle cx="1486.5" cy="2228.2" r="6.4"/><circle cx="1478.7" cy="2233.4" r="6.4"/><circle cx="1471.8" cy="2237.8" r="6.4"/><circle cx="1500.6" cy="2217.7" r="6.4"/><circle cx="1520.7" cy="2220.3" r="6.4"/><circle cx="1530.3" cy="2210.7" r="6.4"/><circle cx="1539.3" cy="2203.2" r="6.4"/><circle cx="1519.2" cy="2199.4" r="6.4"/><circle cx="1509.2" cy="2187.0" r="6.4"/><circle cx="1517.4" cy="2187.8" r="6.4"/><circle cx="1495.5" cy="2237.8" r="6.4"/><circle cx="1492.4" cy="2246.8" r="6.4"/><circle cx="1509.7" cy="2243.4" r="6.4"/><circle cx="1503.2" cy="2252.2" r="6.4"/><circle cx="1498.8" cy="2259.9" r="6.4"/><circle cx="1496.8" cy="2265.6" r="6.4"/><circle cx="1474.4" cy="2254.8" r="6.4"/><circle cx="1482.1" cy="2256.1" r="6.4"/><circle cx="1515.3" cy="2262.3" r="6.4"/><circle cx="1526.4" cy="2258.4" r="6.4"/><circle cx="1469.2" cy="2277.5" r="6.4"/><circle cx="1511.7" cy="2287.5" r="6.4"/><circle cx="1532.1" cy="2289.0" r="6.4"/><circle cx="1537.5" cy="2314.6" r="6.4"/><circle cx="1535.7" cy="2326.7" r="6.4"/><circle cx="1487.8" cy="2368.1" r="6.4"/><circle cx="1489.6" cy="2380.8" r="6.4"/><circle cx="1556.0" cy="2187.5" r="6.4"/><circle cx="1570.2" cy="2181.9" r="6.4"/><circle cx="1568.2" cy="2188.8" r="6.4"/><circle cx="1552.2" cy="2197.3" r="6.4"/><circle cx="1559.9" cy="2198.1" r="6.4"/><circle cx="1552.7" cy="2207.6" r="6.4"/><circle cx="1557.8" cy="2217.9" r="6.4"/><circle cx="1572.8" cy="2213.3" r="6.4"/><circle cx="1585.7" cy="2208.4" r="6.4"/><circle cx="1587.5" cy="2216.1" r="6.4"/><circle cx="1593.4" cy="2194.2" r="6.4"/><circle cx="1603.7" cy="2195.5" r="6.4"/><circle cx="1601.1" cy="2202.5" r="6.4"/><circle cx="1598.6" cy="2207.6" r="6.4"/><circle cx="1563.0" cy="2256.6" r="6.4"/><circle cx="1567.6" cy="2254.8" r="6.4"/><circle cx="1577.9" cy="2282.1" r="6.4"/><circle cx="1589.3" cy="2292.1" r="6.4"/><circle cx="1582.1" cy="2297.8" r="6.4"/><circle cx="1576.4" cy="2312.0" r="6.4"/><circle cx="1565.3" cy="2368.9" r="6.4"/><circle cx="1613.0" cy="2222.8" r="6.4"/><circle cx="1611.4" cy="2238.0" r="6.4"/><circle cx="1619.7" cy="2187.0" r="6.4"/><circle cx="1624.3" cy="2182.6" r="6.4"/><circle cx="1620.5" cy="2199.9" r="6.4"/><circle cx="1628.2" cy="2208.9" r="6.4"/><circle cx="1635.1" cy="2193.5" r="6.4"/><circle cx="1644.9" cy="2194.0" r="6.4"/><circle cx="1639.3" cy="2203.0" r="6.4"/><circle cx="1654.0" cy="2198.6" r="6.4"/><circle cx="1631.8" cy="2222.6" r="6.4"/><circle cx="1633.6" cy="2234.2" r="6.4"/><circle cx="1648.3" cy="2230.3" r="6.4"/><circle cx="1673.3" cy="2202.5" r="6.4"/><circle cx="1668.1" cy="2206.9" r="6.4"/><circle cx="1665.5" cy="2212.8" r="6.4"/><circle cx="1657.8" cy="2217.9" r="6.4"/><circle cx="1663.5" cy="2221.8" r="6.4"/><circle cx="1680.2" cy="2192.2" r="6.4"/><circle cx="1690.8" cy="2195.3" r="6.4"/><circle cx="1683.6" cy="2226.4" r="6.4"/><circle cx="1677.9" cy="2228.8" r="6.4"/><circle cx="1642.9" cy="2263.0" r="6.4"/><circle cx="1661.7" cy="2261.7" r="6.4"/><circle cx="1659.1" cy="2264.3" r="6.4"/><circle cx="1676.1" cy="2262.0" r="6.4"/><circle cx="1687.4" cy="2277.2" r="6.4"/><circle cx="1681.5" cy="2304.2" r="6.4"/><circle cx="1685.6" cy="2313.8" r="6.4"/><circle cx="1694.4" cy="2345.0" r="6.4"/><circle cx="1688.7" cy="2255.3" r="6.4"/><circle cx="1692.6" cy="2247.1" r="6.4"/><circle cx="1698.5" cy="2219.2" r="6.4"/><circle cx="1709.3" cy="2214.8" r="6.4"/><circle cx="1717.1" cy="2210.7" r="6.4"/><circle cx="1727.4" cy="2211.5" r="6.4"/><circle cx="1737.2" cy="2209.4" r="6.4"/><circle cx="1718.4" cy="2181.1" r="6.4"/><circle cx="1711.9" cy="2187.0" r="6.4"/><circle cx="1720.9" cy="2189.6" r="6.4"/><circle cx="1741.0" cy="2188.8" r="6.4"/><circle cx="1742.3" cy="2197.8" r="6.4"/><circle cx="1755.7" cy="2181.9" r="6.4"/><circle cx="1767.3" cy="2180.6" r="6.4"/><circle cx="1700.1" cy="2236.0" r="6.4"/><circle cx="1713.2" cy="2236.5" r="6.4"/><circle cx="1705.5" cy="2246.3" r="6.4"/><circle cx="1699.0" cy="2251.4" r="6.4"/><circle cx="1702.9" cy="2261.7" r="6.4"/><circle cx="1715.8" cy="2257.4" r="6.4"/><circle cx="1726.1" cy="2257.9" r="6.4"/><circle cx="1723.5" cy="2262.5" r="6.4"/><circle cx="1729.4" cy="2243.2" r="6.4"/><circle cx="1732.5" cy="2225.2" r="6.4"/><circle cx="1739.0" cy="2228.2" r="6.4"/><circle cx="1736.4" cy="2234.7" r="6.4"/><circle cx="1746.7" cy="2225.7" r="6.4"/><circle cx="1753.1" cy="2225.7" r="6.4"/><circle cx="1746.4" cy="2256.3" r="6.4"/><circle cx="1764.7" cy="2261.2" r="6.4"/><circle cx="1762.9" cy="2214.8" r="6.4"/><circle cx="1767.3" cy="2204.5" r="6.4"/><circle cx="1772.5" cy="2205.1" r="6.4"/><circle cx="1751.9" cy="2296.5" r="6.4"/><circle cx="1753.7" cy="2304.2" r="6.4"/><circle cx="1750.1" cy="2317.4" r="6.4"/><circle cx="1771.2" cy="2187.0" r="6.4"/><circle cx="1780.2" cy="2187.8" r="6.4"/><circle cx="1785.4" cy="2191.4" r="6.4"/><circle cx="1779.4" cy="2180.6" r="6.4"/><circle cx="1775.8" cy="2216.6" r="6.4"/><circle cx="1773.8" cy="2224.9" r="6.4"/><circle cx="1782.8" cy="2225.7" r="6.4"/><circle cx="1790.5" cy="2223.1" r="6.4"/><circle cx="1794.4" cy="2221.8" r="6.4"/><circle cx="1803.4" cy="2226.2" r="6.4"/><circle cx="1777.6" cy="2239.6" r="6.4"/><circle cx="1798.2" cy="2239.3" r="6.4"/><circle cx="1802.1" cy="2240.6" r="6.4"/><circle cx="1790.5" cy="2253.5" r="6.4"/><circle cx="1800.0" cy="2252.7" r="6.4"/><circle cx="1808.5" cy="2260.4" r="6.4"/><circle cx="1818.8" cy="2256.6" r="6.4"/><circle cx="1807.3" cy="2194.0" r="6.4"/><circle cx="1812.4" cy="2196.0" r="6.4"/><circle cx="1806.0" cy="2203.8" r="6.4"/><circle cx="1814.5" cy="2202.5" r="6.4"/><circle cx="1821.4" cy="2211.0" r="6.4"/><circle cx="1825.3" cy="2215.9" r="6.4"/><circle cx="1817.6" cy="2180.1" r="6.4"/><circle cx="1824.8" cy="2180.1" r="6.4"/><circle cx="1848.5" cy="2188.3" r="6.4"/><circle cx="1844.6" cy="2192.2" r="6.4"/><circle cx="1836.6" cy="2263.3" r="6.4"/><circle cx="1838.4" cy="2276.9" r="6.4"/><circle cx="1792.6" cy="2282.9" r="6.4"/><circle cx="1810.9" cy="2283.6" r="6.4"/></g>
<g stroke="#000" stroke-width="2.4" stroke-linecap="butt"><path d="M258.0 1858.0v-18.7M258.0 2495.7v18.7"/><path d="M302.3 1858.0v-9.9M302.3 2495.7v9.9"/><path d="M346.7 1858.0v-9.9M346.7 2495.7v9.9"/><path d="M391.0 1858.0v-18.7M391.0 2495.7v18.7"/><path d="M435.3 1858.0v-9.9M435.3 2495.7v9.9"/><path d="M479.7 1858.0v-9.9M479.7 2495.7v9.9"/><path d="M524.0 1858.0v-18.7M524.0 2495.7v18.7"/><path d="M568.3 1858.0v-9.9M568.3 2495.7v9.9"/><path d="M612.7 1858.0v-9.9M612.7 2495.7v9.9"/><path d="M657.0 1858.0v-18.7M657.0 2495.7v18.7"/><path d="M701.3 1858.0v-9.9M701.3 2495.7v9.9"/><path d="M745.7 1858.0v-9.9M745.7 2495.7v9.9"/><path d="M790.0 1858.0v-18.7M790.0 2495.7v18.7"/><path d="M834.3 1858.0v-9.9M834.3 2495.7v9.9"/><path d="M878.7 1858.0v-9.9M878.7 2495.7v9.9"/><path d="M923.0 1858.0v-18.7M923.0 2495.7v18.7"/><path d="M967.3 1858.0v-9.9M967.3 2495.7v9.9"/><path d="M1011.7 1858.0v-9.9M1011.7 2495.7v9.9"/><path d="M1056.0 1858.0v-18.7M1056.0 2495.7v18.7"/><path d="M1100.3 1858.0v-9.9M1100.3 2495.7v9.9"/><path d="M1144.7 1858.0v-9.9M1144.7 2495.7v9.9"/><path d="M1189.0 1858.0v-18.7M1189.0 2495.7v18.7"/><path d="M1233.3 1858.0v-9.9M1233.3 2495.7v9.9"/><path d="M1277.7 1858.0v-9.9M1277.7 2495.7v9.9"/><path d="M1322.0 1858.0v-18.7M1322.0 2495.7v18.7"/><path d="M1366.3 1858.0v-9.9M1366.3 2495.7v9.9"/><path d="M1410.7 1858.0v-9.9M1410.7 2495.7v9.9"/><path d="M1455.0 1858.0v-18.7M1455.0 2495.7v18.7"/><path d="M1499.3 1858.0v-9.9M1499.3 2495.7v9.9"/><path d="M1543.7 1858.0v-9.9M1543.7 2495.7v9.9"/><path d="M1588.0 1858.0v-18.7M1588.0 2495.7v18.7"/><path d="M1632.3 1858.0v-9.9M1632.3 2495.7v9.9"/><path d="M1676.7 1858.0v-9.9M1676.7 2495.7v9.9"/><path d="M1721.0 1858.0v-18.7M1721.0 2495.7v18.7"/><path d="M1765.3 1858.0v-9.9M1765.3 2495.7v9.9"/><path d="M1809.7 1858.0v-9.9M1809.7 2495.7v9.9"/><path d="M1854.0 1858.0v-18.7M1854.0 2495.7v18.7"/><path d="M225.9 1975.0h-18.7M1883.7 1975.0h18.7"/><path d="M225.9 2116.1h-18.7M1883.7 2116.1h18.7"/><path d="M225.9 2257.3h-18.7M1883.7 2257.3h18.7"/><path d="M225.9 2398.5h-18.7M1883.7 2398.5h18.7"/></g>
<rect x="225.9" y="1858.0" width="1657.8" height="637.7" fill="none" stroke="#000" stroke-width="5.8"/>
<text class="b" font-size="42.4" text-anchor="middle" transform="translate(257.7 2562.3) scale(1 1.055)">0</text>
<text class="b" font-size="42.4" text-anchor="middle" transform="translate(390.7 2562.3) scale(1 1.055)">6</text>
<text class="b" font-size="42.4" text-anchor="middle" transform="translate(523.7 2562.3) scale(1 1.055)">12</text>
<text class="b" font-size="42.4" text-anchor="middle" transform="translate(656.7 2562.3) scale(1 1.055)">18</text>
<text class="b" font-size="42.4" text-anchor="middle" transform="translate(789.7 2562.3) scale(1 1.055)">24</text>
<text class="b" font-size="42.4" text-anchor="middle" transform="translate(922.7 2562.3) scale(1 1.055)">30</text>
<text class="b" font-size="42.4" text-anchor="middle" transform="translate(1055.7 2562.3) scale(1 1.055)">36</text>
<text class="b" font-size="42.4" text-anchor="middle" transform="translate(1188.7 2562.3) scale(1 1.055)">42</text>
<text class="b" font-size="42.4" text-anchor="middle" transform="translate(1321.7 2562.3) scale(1 1.055)">48</text>
<text class="b" font-size="42.4" text-anchor="middle" transform="translate(1454.7 2562.3) scale(1 1.055)">54</text>
<text class="b" font-size="42.4" text-anchor="middle" transform="translate(1587.7 2562.3) scale(1 1.055)">60</text>
<text class="b" font-size="42.4" text-anchor="middle" transform="translate(1720.7 2562.3) scale(1 1.055)">66</text>
<text class="b" font-size="42.4" text-anchor="middle" transform="translate(1853.7 2562.3) scale(1 1.055)">72</text>
<text class="b" font-size="42.4" text-anchor="end" transform="translate(190.6 1990.9) scale(1 1.055)">80</text>
<text class="b" font-size="42.4" text-anchor="end" transform="translate(190.6 2132.0) scale(1 1.055)">40</text>
<text class="b" font-size="42.4" text-anchor="end" transform="translate(190.6 2273.2) scale(1 1.055)">0</text>
<text class="b" font-size="42.4" text-anchor="end" transform="translate(190.6 2414.4) scale(1 1.055)"><tspan dy="4.1">−</tspan><tspan dy="-4.1">40</tspan></text>
<text font-size="42.3" text-anchor="middle" transform="translate(90.0 2176.8) rotate(-90) scale(1 1.055)">Up (mm)</text>
<text font-size="42.5" text-anchor="middle" transform="translate(1054.4 2620.8) scale(1 1.055)">Time (hours since beginning of first day UTC)</text>
<rect x="225.9" y="2725.0" width="1657.8" height="152.9" fill="none" stroke="#000" stroke-width="5.8"/>
<text class="b" font-size="42.55" text-anchor="middle" transform="translate(1055.2 2764.0) scale(1 1.055)">Processed Using JPL Rapid Orbits</text>
<text class="b" font-size="42.55" text-anchor="middle" transform="translate(1055.2 2803.8) scale(1 1.055)">by the Nevada Geodetic Laboratory.</text>
<text class="b" font-size="42.55" text-anchor="middle" transform="translate(1055.2 2844.8) scale(1 1.055)">Plotted on 2026-Jan-10.</text>
</svg></body></html>
